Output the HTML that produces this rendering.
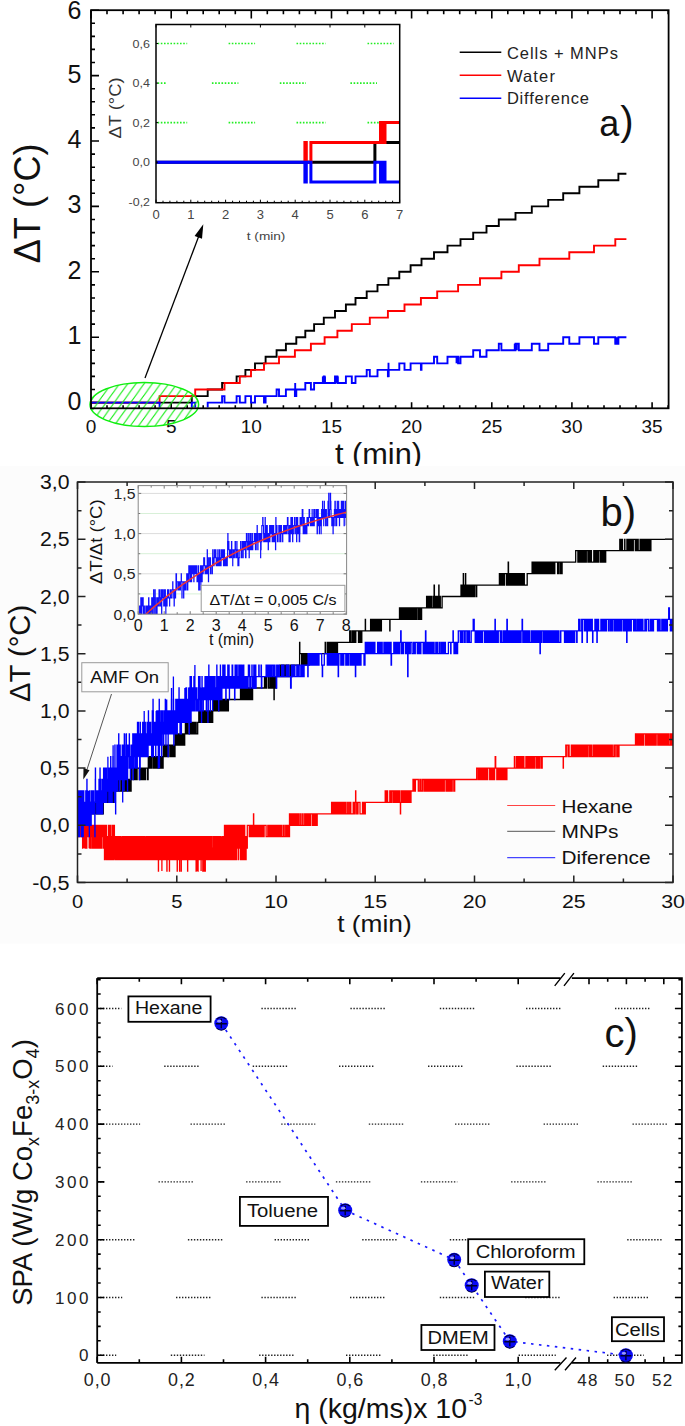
<!DOCTYPE html><html><head><meta charset="utf-8"><style>html,body{margin:0;padding:0;background:#fff;overflow:hidden;}svg{display:block;font-family:"Liberation Sans",sans-serif;}</style></head><body>
<svg width="685" height="1426" viewBox="0 0 685 1426">
<defs><pattern id="hatch" patternUnits="userSpaceOnUse" width="7.2" height="7.2"><path d="M-1.8 1.8L1.8 -1.8M0 7.2L7.2 0M5.4 9L9 5.4" stroke="#11ee11" stroke-width="1"/></pattern><clipPath id="clipA"><rect x="0" y="0" width="685" height="466"/></clipPath><clipPath id="clipAd"><rect x="91" y="10.2" width="577.6" height="397.2"/></clipPath><pattern id="hatch2" patternUnits="userSpaceOnUse" width="8.2" height="11.48"><path d="M0 11.48L8.2 0M-2 2.8L2 -2.8M6.2 14.28L10.2 8.68" stroke="#11ee11" stroke-width="1"/></pattern></defs>
<rect width="685" height="1426" fill="#fff"/>
<rect x="0" y="466" width="685" height="477.7" fill="#fcfcfc"/>
<g clip-path="url(#clipA)">
<path d="M91 408.3L91 402.3M91 10.2L91 18.4M107 408.3L107 405.3M107 10.2L107 14.2M123.1 408.3L123.1 405.3M123.1 10.2L123.1 14.2M139.1 408.3L139.1 405.3M139.1 10.2L139.1 14.2M155.1 408.3L155.1 405.3M155.1 10.2L155.1 14.2M171.2 408.3L171.2 402.3M171.2 10.2L171.2 18.4M187.2 408.3L187.2 405.3M187.2 10.2L187.2 14.2M203.2 408.3L203.2 405.3M203.2 10.2L203.2 14.2M219.2 408.3L219.2 405.3M219.2 10.2L219.2 14.2M235.3 408.3L235.3 405.3M235.3 10.2L235.3 14.2M251.3 408.3L251.3 402.3M251.3 10.2L251.3 18.4M267.3 408.3L267.3 405.3M267.3 10.2L267.3 14.2M283.4 408.3L283.4 405.3M283.4 10.2L283.4 14.2M299.4 408.3L299.4 405.3M299.4 10.2L299.4 14.2M315.4 408.3L315.4 405.3M315.4 10.2L315.4 14.2M331.5 408.3L331.5 402.3M331.5 10.2L331.5 18.4M347.5 408.3L347.5 405.3M347.5 10.2L347.5 14.2M363.5 408.3L363.5 405.3M363.5 10.2L363.5 14.2M379.5 408.3L379.5 405.3M379.5 10.2L379.5 14.2M395.6 408.3L395.6 405.3M395.6 10.2L395.6 14.2M411.6 408.3L411.6 402.3M411.6 10.2L411.6 18.4M427.6 408.3L427.6 405.3M427.6 10.2L427.6 14.2M443.7 408.3L443.7 405.3M443.7 10.2L443.7 14.2M459.7 408.3L459.7 405.3M459.7 10.2L459.7 14.2M475.7 408.3L475.7 405.3M475.7 10.2L475.7 14.2M491.8 408.3L491.8 402.3M491.8 10.2L491.8 18.4M507.8 408.3L507.8 405.3M507.8 10.2L507.8 14.2M523.8 408.3L523.8 405.3M523.8 10.2L523.8 14.2M539.8 408.3L539.8 405.3M539.8 10.2L539.8 14.2M555.9 408.3L555.9 405.3M555.9 10.2L555.9 14.2M571.9 408.3L571.9 402.3M571.9 10.2L571.9 18.4M587.9 408.3L587.9 405.3M587.9 10.2L587.9 14.2M604 408.3L604 405.3M604 10.2L604 14.2M620 408.3L620 405.3M620 10.2L620 14.2M636 408.3L636 405.3M636 10.2L636 14.2M652.1 408.3L652.1 402.3M652.1 10.2L652.1 18.4M668.1 408.3L668.1 405.3M668.1 10.2L668.1 14.2M91 402.6L99 402.6M91 389.5L95 389.5M91 376.4L95 376.4M91 363.4L95 363.4M91 350.3L95 350.3M91 337.2L99 337.2M91 324.1L95 324.1M91 311L95 311M91 298L95 298M91 284.9L95 284.9M91 271.8L99 271.8M91 258.7L95 258.7M91 245.6L95 245.6M91 232.6L95 232.6M91 219.5L95 219.5M91 206.4L99 206.4M91 193.3L95 193.3M91 180.2L95 180.2M91 167.2L95 167.2M91 154.1L95 154.1M91 141L99 141M91 127.9L95 127.9M91 114.8L95 114.8M91 101.8L95 101.8M91 88.7L95 88.7M91 75.6L99 75.6M91 62.5L95 62.5M91 49.4L95 49.4M91 36.4L95 36.4M91 23.3L95 23.3M91 10.2L99 10.2" stroke="#000" stroke-width="1.6" fill="none"/>
<text x="81.5" y="409.6" font-size="25" text-anchor="end" fill="#111" >0</text>
<text x="81.5" y="344.2" font-size="25" text-anchor="end" fill="#111" >1</text>
<text x="81.5" y="278.8" font-size="25" text-anchor="end" fill="#111" >2</text>
<text x="81.5" y="213.4" font-size="25" text-anchor="end" fill="#111" >3</text>
<text x="81.5" y="148" font-size="25" text-anchor="end" fill="#111" >4</text>
<text x="81.5" y="82.6" font-size="25" text-anchor="end" fill="#111" >5</text>
<text x="81.5" y="18.7" font-size="25" text-anchor="end" fill="#111" >6</text>
<text x="91" y="433.3" font-size="19" text-anchor="middle" fill="#111" >0</text>
<text x="171.2" y="433.3" font-size="19" text-anchor="middle" fill="#111" >5</text>
<text x="251.3" y="433.3" font-size="19" text-anchor="middle" fill="#111" >10</text>
<text x="331.5" y="433.3" font-size="19" text-anchor="middle" fill="#111" >15</text>
<text x="411.6" y="433.3" font-size="19" text-anchor="middle" fill="#111" >20</text>
<text x="491.8" y="433.3" font-size="19" text-anchor="middle" fill="#111" >25</text>
<text x="571.9" y="433.3" font-size="19" text-anchor="middle" fill="#111" >30</text>
<text x="652.1" y="433.3" font-size="19" text-anchor="middle" fill="#111" >35</text>
<text x="0" y="0" transform="translate(40,203.4) rotate(-90)" font-size="36" text-anchor="middle" fill="#111" >ΔT (°C)</text>
<text x="335" y="464.2" font-size="30" textLength="87" lengthAdjust="spacingAndGlyphs" fill="#111" >t (min)</text>
<g clip-path="url(#clipAd)">
<path d="M91 402.6H191.8V396.1H207.7V389.5H222.1V383H236.6V376.4H245.4V369.9H255V363.4H265.6V356.8H276.6V350.3H285.9V343.7H296.3V337.2H305.3V330.7H314.1V324.1H323.8V317.6H335V311H345.9V304.5H355.5V298H366.7V291.4H377.5V284.9H388.4V278.3H399.3V271.8H410.6V265.3H421.5V258.7H434V252.2H447.5V245.6H460.5V239.1H473.2V232.6H486.5V226H498.8V219.5H515.5V212.9H531.8V206.4H548.2V199.9H563.2V193.3H579.4V186.8H598.3V180.2H618.4V173.7H626.4" stroke="#000" stroke-width="1.9" fill="none"/>
<path d="M91 402.6H159.6V396.1H195.2V389.5H224.5V383H239.8V376.4H251V369.9H264V363.4H279V356.8H294.9V350.3H310.9V343.7H324.6V337.2H337.4V330.7H351.8V324.1H369.8V317.6H387.9V311H404.5V304.5H420.9V298H437.2V291.4H458.1V284.9H480V278.3H501.4V271.8H518.8V265.3H539.5V258.7H569.3V252.2H594V245.6H615.3V239.1H626.4" stroke="#f00" stroke-width="1.9" fill="none"/>
<path d="M91 402.6H159.6V409.1H191.8V402.6H195.2V409.1H207.7V402.6H222.1V396.1H224.5V402.6H236.6V396.1H239.8V402.6H245.4V396.1H251V402.6H255V396.1H264V402.6H265.6V396.1H276.6V389.5H279V396.1H285.9V389.5H294.9V396.1H296.3V389.5H305.3V383H310.9V389.5H314.1V383H323.8V376.4H324.6V383H335V376.4H337.4V383H345.9V376.4H351.8V383H355.5V376.4H366.7V369.9H369.8V376.4H377.5V369.9H387.9V376.4H388.4V369.9H399.3V363.4H404.5V369.9H410.6V363.4H420.9V369.9H421.5V363.4H434V356.8H437.2V363.4H447.5V356.8H458.1V363.4H460.5V356.8H473.2V350.3H480V356.8H486.5V350.3H498.8V343.7H501.4V350.3H515.5V343.7H518.8V350.3H531.8V343.7H539.5V350.3H548.2V343.7H563.2V337.2H569.3V343.7H579.4V337.2H594V343.7H598.3V337.2H615.3V343.7H618.4V337.2H626.4" stroke="#00f" stroke-width="1.9" fill="none"/>
<path d="M295.2 395.4V383M388.5 377.1V362.7" stroke="#00f" stroke-width="1.9" fill="none"/>
<rect x="321.9" y="376.4" width="4" height="6.5" fill="#00f"/>
<rect x="334.7" y="376.4" width="4" height="6.5" fill="#00f"/>
<rect x="455.6" y="356.8" width="4" height="6.5" fill="#00f"/>
<rect x="513.8" y="343.7" width="4" height="6.5" fill="#00f"/>
<rect x="614.8" y="337.2" width="4" height="6.5" fill="#00f"/>
</g>
<ellipse cx="144.3" cy="404.6" rx="54.3" ry="22" fill="url(#hatch2)" stroke="#11ee11" stroke-width="1.5"/>
<line x1="145" y1="378" x2="199.5" y2="234.3" stroke="#000" stroke-width="1.3" />
<path d="M203.3 224.3L202 238.8L194.6 236Z" fill="#000"/>
<rect x="91" y="10.2" width="577.6" height="398.1" stroke="#000" stroke-width="1.8" fill="none" />
<line x1="459.7" y1="52.2" x2="501.3" y2="52.2" stroke="#000" stroke-width="1.5" />
<line x1="459.7" y1="75.2" x2="501.3" y2="75.2" stroke="#f00" stroke-width="1.5" />
<line x1="459.7" y1="98.2" x2="501.3" y2="98.2" stroke="#00f" stroke-width="1.5" />
<text x="506.9" y="59.4" font-size="16.5" textLength="111" lengthAdjust="spacing" fill="#222" >Cells + MNPs</text>
<text x="506.9" y="81.6" font-size="16.5" textLength="48" lengthAdjust="spacing" fill="#222" >Water</text>
<text x="506.9" y="104.3" font-size="16.5" textLength="82" lengthAdjust="spacing" fill="#222" >Difference</text>
<text x="599.3" y="135.7" font-size="36" fill="#111" >a</text>
<text x="620.3" y="135.3" font-size="40" fill="#111" >)</text>
<rect x="156" y="24.5" width="243.7" height="178.2" stroke="#000" stroke-width="0" fill="#fff" />
<path d="M157.6 43.5H187.2M228.6 43.5H255.1M296.5 43.5H325.7M367.5 43.5H393.6M157.6 83.1H167M211.9 83.1H238.4M279.8 83.1H306M350.4 83.1H377M157.6 122.6H187.2M228.6 122.6H255.1M296.5 122.6H325.7M367.5 122.6H393.6" stroke="#22ee22" stroke-width="1.6" stroke-dasharray="1.6 1.6" fill="none"/>
<path d="M156 162.2L374.9 162.2L374.9 142.4L399.6 142.4" stroke="#000" stroke-width="3" fill="none"/>
<path d="M304.9 162.2L304.9 142.4L306.3 142.4L306.3 162.2L310.9 162.2L310.9 142.4L380.5 142.4L380.5 122.6L382.2 122.6L382.2 142.4L385 142.4L385 122.6L399.6 122.6" stroke="#f00" stroke-width="3" fill="none"/>
<path d="M156 162.2L304.9 162.2L304.9 182L306.3 182L306.3 162.2L310.9 162.2L310.9 182L374.9 182L374.9 162.2L380.5 162.2L380.5 182L382.2 182L382.2 162.2L385 162.2L385 182L399.6 182" stroke="#00f" stroke-width="3" fill="none"/>
<path d="M156 202.7L156 199.7M156 24.5L156 27.5M163 202.7L163 200.7M169.9 202.7L169.9 200.7M176.9 202.7L176.9 200.7M183.8 202.7L183.8 200.7M190.8 202.7L190.8 199.7M190.8 24.5L190.8 27.5M197.8 202.7L197.8 200.7M204.7 202.7L204.7 200.7M211.7 202.7L211.7 200.7M218.6 202.7L218.6 200.7M225.6 202.7L225.6 199.7M225.6 24.5L225.6 27.5M232.6 202.7L232.6 200.7M239.5 202.7L239.5 200.7M246.5 202.7L246.5 200.7M253.4 202.7L253.4 200.7M260.4 202.7L260.4 199.7M260.4 24.5L260.4 27.5M267.4 202.7L267.4 200.7M274.3 202.7L274.3 200.7M281.3 202.7L281.3 200.7M288.2 202.7L288.2 200.7M295.2 202.7L295.2 199.7M295.2 24.5L295.2 27.5M302.2 202.7L302.2 200.7M309.1 202.7L309.1 200.7M316.1 202.7L316.1 200.7M323 202.7L323 200.7M330 202.7L330 199.7M330 24.5L330 27.5M337 202.7L337 200.7M343.9 202.7L343.9 200.7M350.9 202.7L350.9 200.7M357.8 202.7L357.8 200.7M364.8 202.7L364.8 199.7M364.8 24.5L364.8 27.5M371.8 202.7L371.8 200.7M378.7 202.7L378.7 200.7M385.7 202.7L385.7 200.7M392.6 202.7L392.6 200.7M399.6 202.7L399.6 199.7M399.6 24.5L399.6 27.5M156 43.5L158 43.5M156 83.1L158 83.1M156 122.6L158 122.6M156 162.2L158 162.2" stroke="#000" stroke-width="1" fill="none"/>
<rect x="156" y="24.5" width="243.7" height="178.2" stroke="#000" stroke-width="1.5" fill="none" />
<text x="156" y="219" font-size="13" text-anchor="middle" fill="#444" >0</text>
<text x="190.8" y="219" font-size="13" text-anchor="middle" fill="#444" >1</text>
<text x="225.6" y="219" font-size="13" text-anchor="middle" fill="#444" >2</text>
<text x="260.4" y="219" font-size="13" text-anchor="middle" fill="#444" >3</text>
<text x="295.2" y="219" font-size="13" text-anchor="middle" fill="#444" >4</text>
<text x="330" y="219" font-size="13" text-anchor="middle" fill="#444" >5</text>
<text x="364.8" y="219" font-size="13" text-anchor="middle" fill="#444" >6</text>
<text x="399.6" y="219" font-size="13" text-anchor="middle" fill="#444" >7</text>
<text x="150" y="47.5" font-size="11.5" text-anchor="end" textLength="17.4" lengthAdjust="spacingAndGlyphs" fill="#444" >0,6</text>
<text x="150" y="87.1" font-size="11.5" text-anchor="end" textLength="17.4" lengthAdjust="spacingAndGlyphs" fill="#444" >0,4</text>
<text x="150" y="126.6" font-size="11.5" text-anchor="end" textLength="17.4" lengthAdjust="spacingAndGlyphs" fill="#444" >0,2</text>
<text x="150" y="166.2" font-size="11.5" text-anchor="end" textLength="17.4" lengthAdjust="spacingAndGlyphs" fill="#444" >0,0</text>
<text x="150" y="205.8" font-size="11.5" text-anchor="end" textLength="21.4" lengthAdjust="spacingAndGlyphs" fill="#444" >-0,2</text>
<text x="0" y="0" transform="translate(120.5,108) rotate(-90)" font-size="16.5" text-anchor="middle" textLength="61" lengthAdjust="spacingAndGlyphs" fill="#333" >ΔT (°C)</text>
<text x="246.8" y="240" font-size="11.5" textLength="38.6" lengthAdjust="spacingAndGlyphs" fill="#444" >t (min)</text>
</g>
<clipPath id="clipBd"><rect x="77.5" y="482" width="595.5" height="400.4"/></clipPath>
<g clip-path="url(#clipBd)">
<path d="M77.5 836.7H77.6V825.3H77.7V836.7H77.8V825.3H77.9V836.7H78V825.3H78.2V836.7H78.3V825.3H78.4V836.7H78.5V825.3H78.7V836.7H78.8V825.3H79.1V836.7H79.2V825.3H79.6V836.7H79.9V825.3H80.2V836.7H80.3V825.3H80.5V836.7H80.6V825.3H80.7V836.7H80.8V825.3H80.9V836.7H81V825.3H81.4V836.7H81.6V825.3H81.6V836.7H81.7V825.3H81.9V836.7H82V825.3H82V836.7H82.3V825.3H82.6V848.2H82.7V836.7H82.9V825.3H83V836.7H83.3V825.3H83.5V836.7H83.7V825.3H83.8V836.7H83.9V825.3H84V848.2H84V836.7H84.1V825.3H84.3V836.7H84.4V825.3H84.7V836.7H84.8V825.3H84.9V848.2H84.9V825.3H85.2V848.2H85.4V825.3H85.5V836.7H85.7V825.3H85.8V836.7H86.2V825.3H86.3V836.7H86.6V825.3H86.7V848.2H86.8V825.3H86.8V836.7H87V825.3H87.8V836.7H88V825.3H88.1V836.7H88.3V825.3H88.3V836.7H88.4V825.3H88.5V836.7H88.7V825.3H88.8V836.7H88.9V825.3H89.2V848.2H89.2V836.7H89.3V825.3H89.4V836.7H89.5V825.3H89.6V836.7H89.7V848.2H89.7V836.7H89.9V848.2H90.1V825.3H90.2V836.7H90.3V825.3H90.4V836.7H90.5V825.3H90.6V836.7H90.7V825.3H90.8V836.7H90.9V825.3H91V836.7H91.1V848.2H91.2V836.7H91.3V825.3H91.4V836.7H91.5V825.3H91.6V836.7H91.6V825.3H92V836.7H92.1V825.3H92.4V836.7H92.6V848.2H92.7V825.3H93V836.7H93.1V848.2H93.2V836.7H93.3V825.3H93.4V836.7H93.5V848.2H93.5V825.3H93.6V848.2H93.8V836.7H94V825.3H94.2V836.7H94.4V848.2H94.5V836.7H94.5V848.2H94.6V825.3H95V836.7H95V848.2H95.1V825.3H95.3V836.7H95.4V825.3H95.4V836.7H95.5V825.3H95.6V836.7H95.7V848.2H95.8V836.7H95.9V848.2H95.9V825.3H96.2V836.7H96.4V825.3H96.7V848.2H96.8V836.7H97V825.3H97.1V836.7H97.2V825.3H97.3V836.7H97.3V825.3H97.4V836.7H97.5V825.3H97.6V836.7H97.9V825.3H98V836.7H98.1V848.2H98.2V836.7H98.3V848.2H98.3V836.7H98.4V825.3H98.5V836.7H98.6V825.3H98.7V836.7H98.8V825.3H98.8V836.7H98.9V825.3H99V848.2H99.1V825.3H99.4V848.2H99.5V836.7H99.6V848.2H99.7V825.3H99.7V836.7H100V825.3H100.1V848.2H100.2V836.7H100.3V825.3H100.5V836.7H100.7V848.2H100.8V825.3H100.9V836.7H101V825.3H101.1V836.7H101.2V825.3H101.3V836.7H101.4V825.3H101.5V836.7H101.7V825.3H101.7V848.2H101.8V825.3H102.2V836.7H102.3V825.3H102.4V836.7H102.8V825.3H103V836.7H103.4V848.2H103.5V836.7H103.6V848.2H103.7V825.3H103.8V836.7H104V825.3H104.1V836.7H104.3V848.2H104.4V836.7H104.5V848.2H104.5V859.6H104.7V848.2H104.9V825.3H105V848.2H105.1V859.6H105.2V825.3H105.4V836.7H105.5V825.3H105.6V836.7H105.8V848.2H105.9V836.7H106V859.6H106V825.3H106.1V836.7H106.2V848.2H106.3V825.3H106.4V836.7H106.6V859.6H106.7V836.7H106.8V848.2H106.9V859.6H106.9V836.7H107V859.6H107.1V836.7H107.2V848.2H107.4V836.7H107.4V859.6H107.5V848.2H107.6V836.7H107.7V848.2H107.8V836.7H107.9V859.6H108.1V836.7H108.2V859.6H108.3V848.2H108.4V825.3H108.5V836.7H108.6V859.6H108.8V836.7H108.9V859.6H109V836.7H109.1V825.3H109.2V836.7H109.3V848.2H109.3V859.6H109.5V825.3H109.6V836.7H109.7V825.3H109.8V848.2H109.8V836.7H109.9V859.6H110V848.2H110.3V836.7H110.3V859.6H110.6V848.2H110.7V836.7H110.7V825.3H110.8V836.7H110.9V848.2H111V836.7H111.1V859.6H111.2V848.2H111.3V836.7H111.5V859.6H111.6V836.7H111.7V848.2H111.9V836.7H112V859.6H112.1V836.7H112.3V848.2H112.4V825.3H112.5V848.2H112.6V836.7H112.7V859.6H112.7V836.7H112.8V848.2H112.9V859.6H113V825.3H113.1V848.2H113.1V836.7H113.5V859.6H113.6V836.7H113.6V859.6H113.7V836.7H113.9V848.2H114.1V859.6H114.1V825.3H114.2V848.2H114.3V825.3H114.4V836.7H114.7V848.2H114.9V836.7H115V848.2H115.1V836.7H115.2V859.6H115.3V836.7H115.4V848.2H115.5V859.6H115.5V836.7H115.6V848.2H115.7V836.7H115.8V859.6H116V836.7H116V848.2H116.1V836.7H116.4V859.6H116.5V848.2H116.5V836.7H116.6V848.2H116.7V836.7H116.8V848.2H116.9V836.7H117V859.6H117V848.2H117.1V859.6H117.2V848.2H117.4V836.7H117.5V848.2H117.6V859.6H117.7V836.7H117.9V848.2H118V836.7H118.1V848.2H118.2V836.7H118.3V848.2H118.4V836.7H118.4V859.6H118.7V848.2H118.8V859.6H118.9V848.2H119V859.6H119.2V836.7H119.3V859.6H119.4V848.2H119.5V859.6H119.6V836.7H119.7V859.6H119.8V836.7H119.9V859.6H120.1V836.7H120.3V859.6H120.7V836.7H120.9V848.2H121.2V859.6H121.3V848.2H121.3V859.6H121.6V848.2H121.9V859.6H122.2V836.7H122.2V848.2H122.4V836.7H122.6V848.2H122.7V859.6H122.8V836.7H122.9V859.6H123.1V848.2H123.2V836.7H123.2V848.2H123.5V836.7H123.6V859.6H123.7V848.2H123.7V859.6H123.8V848.2H124V836.7H124.1V859.6H124.4V836.7H124.6V859.6H124.9V848.2H125V859.6H125.1V836.7H125.3V859.6H125.6V848.2H125.7V859.6H125.8V836.7H126V859.6H126V836.7H126.1V859.6H126.3V836.7H126.4V848.2H126.5V836.7H126.5V859.6H126.7V848.2H126.8V836.7H126.9V848.2H127.1V859.6H127.2V848.2H127.3V836.7H127.4V859.6H127.5V848.2H127.5V859.6H127.7V848.2H127.8V859.6H127.9V836.7H128V859.6H128V836.7H128.1V848.2H128.4V836.7H128.4V848.2H128.5V836.7H128.7V848.2H128.9V836.7H128.9V859.6H129.2V836.7H129.4V848.2H129.5V859.6H129.6V848.2H129.8V859.6H130V836.7H130.1V859.6H130.2V836.7H130.3V859.6H130.5V848.2H130.6V859.6H130.7V836.7H130.8V859.6H130.8V836.7H131.1V859.6H131.2V848.2H131.3V859.6H131.6V836.7H131.9V848.2H132V859.6H132.1V836.7H132.2V848.2H132.3V836.7H132.6V859.6H132.7V836.7H132.8V848.2H133V859.6H133.1V836.7H133.2V859.6H133.2V836.7H133.3V848.2H133.6V859.6H133.7V848.2H133.8V859.6H133.9V836.7H134V859.6H134.2V836.7H134.2V859.6H134.4V848.2H134.5V859.6H134.6V836.7H134.7V848.2H134.8V859.6H134.9V848.2H135V859.6H135.1V848.2H135.1V859.6H135.3V836.7H135.4V859.6H135.5V848.2H135.6V836.7H135.7V859.6H135.8V848.2H135.9V859.6H136.1V848.2H136.2V859.6H136.4V848.2H136.6V836.7H136.8V848.2H137V859.6H137.2V836.7H137.3V859.6H137.4V848.2H137.6V859.6H137.7V848.2H137.8V836.7H137.9V848.2H138V859.6H138.1V836.7H138.4V848.2H138.7V859.6H138.8V848.2H138.9V859.6H139V848.2H139V859.6H139.1V836.7H139.4V848.2H139.5V836.7H139.7V859.6H139.8V836.7H139.9V859.6H140V836.7H140.1V848.2H140.2V859.6H140.3V848.2H140.4V859.6H140.4V836.7H140.5V848.2H140.6V859.6H140.7V848.2H140.8V859.6H141V848.2H141.1V859.6H141.4V836.7H141.5V848.2H141.6V836.7H141.8V859.6H141.8V848.2H141.9V859.6H142.2V848.2H142.3V836.7H142.5V848.2H142.7V836.7H142.8V848.2H142.9V859.6H143V836.7H143.1V859.6H143.3V836.7H143.5V848.2H143.6V836.7H143.7V848.2H143.7V859.6H143.8V848.2H143.9V836.7H144.1V859.6H144.2V848.2H144.2V836.7H144.3V848.2H144.4V859.6H144.6V848.2H144.7V859.6H144.8V836.7H145V848.2H145.2V836.7H145.2V859.6H145.4V848.2H145.5V859.6H145.6V848.2H145.7V859.6H145.7V848.2H145.8V859.6H146V848.2H146.1V859.6H146.4V836.7H146.6V848.2H146.6V836.7H146.7V848.2H146.9V836.7H147.1V859.6H147.2V836.7H147.3V859.6H147.4V848.2H147.5V836.7H147.6V859.6H147.6V836.7H147.7V848.2H147.8V836.7H148V848.2H148.2V859.6H148.3V848.2H148.5V859.6H148.5V848.2H148.6V859.6H148.7V848.2H148.8V859.6H148.9V836.7H149V859.6H149.2V848.2H149.3V836.7H149.4V848.2H149.5V836.7H149.5V848.2H149.6V859.6H149.9V836.7H150V859.6H150V836.7H150.1V859.6H150.7V836.7H150.9V859.6H150.9V836.7H151V859.6H151.1V848.2H151.2V859.6H151.3V836.7H151.4V848.2H151.4V859.6H151.6V836.7H151.8V859.6H151.9V848.2H152V836.7H152.1V859.6H152.6V836.7H152.8V859.6H152.9V836.7H153V859.6H153.2V848.2H153.4V859.6H153.5V836.7H153.7V859.6H153.8V836.7H153.8V848.2H154V859.6H154.1V836.7H154.2V859.6H154.4V848.2H154.5V859.6H154.6V848.2H154.7V859.6H154.7V848.2H154.8V859.6H154.9V836.7H155V859.6H155.2V836.7H155.2V859.6H155.3V836.7H155.4V859.6H155.5V836.7H155.7V848.2H155.7V836.7H155.8V848.2H156V859.6H156.1V848.2H156.2V859.6H156.2V848.2H156.6V859.6H156.7V848.2H156.8V859.6H156.9V836.7H157V848.2H157.1V859.6H157.2V848.2H157.3V859.6H157.6V836.7H157.6V848.2H157.9V836.7H158V848.2H158.1V859.6H158.1V836.7H158.3V848.2H158.4V871.1H158.5V848.2H158.6V836.7H158.6V859.6H158.7V836.7H158.8V848.2H158.9V859.6H159.1V848.2H159.1V836.7H159.2V859.6H159.5V836.7H159.6V859.6H159.9V848.2H160V859.6H160.3V836.7H160.5V859.6H160.6V848.2H160.7V836.7H160.8V848.2H160.9V836.7H161V848.2H161V859.6H161.1V848.2H161.4V859.6H161.5V848.2H161.6V836.7H161.7V859.6H161.8V836.7H161.9V871.1H161.9V836.7H162V848.2H162.1V859.6H162.2V848.2H162.3V859.6H162.4V848.2H162.4V859.6H162.5V848.2H162.6V859.6H162.7V848.2H162.8V836.7H162.9V859.6H163.3V848.2H163.4V859.6H163.5V848.2H163.6V836.7H163.7V859.6H163.8V848.2H164V836.7H164.1V859.6H164.2V836.7H164.3V848.2H164.3V836.7H164.4V859.6H164.7V848.2H164.8V859.6H164.9V836.7H165.2V848.2H165.3V836.7H165.3V859.6H165.4V848.2H165.5V859.6H165.7V836.7H165.8V848.2H166V859.6H166.1V848.2H166.2V859.6H166.2V848.2H166.4V859.6H166.7V836.7H166.9V871.1H167V848.2H167.1V859.6H167.2V836.7H167.2V848.2H167.3V836.7H167.4V848.2H167.5V859.6H167.7V836.7H167.9V848.2H168.2V859.6H168.3V848.2H168.6V836.7H168.7V848.2H168.9V859.6H169V848.2H169.1V859.6H169.1V848.2H169.4V871.1H169.5V859.6H169.7V836.7H169.8V859.6H170.1V836.7H170.2V859.6H170.4V836.7H170.5V859.6H170.7V848.2H170.9V836.7H171V859.6H171.1V836.7H171.2V859.6H171.4V848.2H171.5V859.6H171.5V848.2H171.6V859.6H171.7V848.2H171.9V859.6H172V848.2H172.2V836.7H172.4V859.6H172.5V836.7H172.8V859.6H172.9V836.7H173V859.6H173.1V836.7H173.2V859.6H173.4V836.7H173.4V859.6H173.5V836.7H173.7V859.6H173.9V848.2H173.9V836.7H174V848.2H174.1V859.6H174.4V848.2H174.5V859.6H174.6V836.7H174.7V848.2H174.8V836.7H174.8V859.6H175V836.7H175.1V859.6H175.3V848.2H175.4V836.7H175.5V859.6H175.6V848.2H175.7V859.6H175.8V848.2H175.8V859.6H176V848.2H176.1V836.7H176.2V859.6H176.3V848.2H176.4V859.6H176.8V848.2H176.9V836.7H177.2V871.1H177.3V848.2H177.4V836.7H177.5V859.6H177.6V848.2H177.7V859.6H177.8V836.7H177.9V859.6H178V848.2H178.1V859.6H178.2V836.7H178.4V848.2H178.6V836.7H178.7V859.6H178.7V848.2H179V859.6H179.1V836.7H179.1V848.2H179.2V836.7H179.3V848.2H179.5V859.6H179.6V871.1H179.7V859.6H180V836.7H180.1V848.2H180.1V836.7H180.2V859.6H180.5V848.2H180.6V836.7H180.8V848.2H180.9V836.7H181V859.6H181.1V836.7H181.1V848.2H181.2V871.1H181.3V848.2H181.4V859.6H181.5V836.7H181.5V848.2H181.6V859.6H181.9V836.7H182V859.6H182.5V848.2H182.5V836.7H182.7V848.2H182.9V859.6H183V848.2H183.1V859.6H183.2V836.7H183.3V848.2H183.4V836.7H183.4V848.2H183.5V836.7H183.6V848.2H183.8V836.7H183.9V848.2H184.1V859.6H184.3V848.2H184.4V859.6H184.4V836.7H184.6V859.6H184.8V836.7H184.9V848.2H184.9V859.6H185V836.7H185.2V848.2H185.4V836.7H185.4V848.2H185.5V836.7H185.6V848.2H185.7V859.6H185.8V848.2H186V859.6H186.3V848.2H186.5V836.7H186.6V859.6H186.7V836.7H186.8V859.6H186.9V836.7H187V859.6H187.1V848.2H187.2V859.6H187.3V848.2H187.3V836.7H187.4V848.2H187.5V859.6H187.6V871.1H187.7V836.7H187.8V848.2H188.1V859.6H188.2V836.7H188.3V848.2H188.4V859.6H188.5V848.2H188.6V836.7H188.7V848.2H188.8V859.6H189V848.2H189.1V836.7H189.2V848.2H189.2V859.6H189.4V848.2H189.5V859.6H189.7V836.7H189.9V848.2H190.1V836.7H190.2V859.6H190.3V848.2H190.5V836.7H190.6V859.6H190.8V836.7H190.9V859.6H191V848.2H191.1V836.7H191.1V859.6H191.2V836.7H191.3V859.6H191.4V836.7H191.5V859.6H191.6V848.2H191.6V836.7H191.7V859.6H191.8V836.7H191.9V859.6H192V836.7H192.3V859.6H192.5V848.2H192.5V859.6H192.6V836.7H192.7V848.2H193.1V859.6H193.3V848.2H193.5V836.7H193.8V859.6H193.9V836.7H194V859.6H194.2V848.2H194.3V836.7H194.4V859.6H194.4V836.7H194.6V859.6H194.7V836.7H194.8V859.6H194.9V848.2H195V859.6H195.1V836.7H195.2V859.6H195.3V848.2H195.4V836.7H195.4V859.6H195.6V848.2H195.7V859.6H195.8V848.2H195.9V859.6H196.1V871.1H196.2V836.7H196.3V859.6H196.4V848.2H196.4V836.7H196.5V848.2H196.6V859.6H196.7V836.7H196.8V871.1H196.8V836.7H196.9V848.2H197V859.6H197.2V848.2H197.3V836.7H197.4V859.6H197.8V848.2H197.8V859.6H197.9V848.2H198V871.1H198.1V859.6H198.2V848.2H198.3V836.7H198.3V859.6H198.4V836.7H198.6V859.6H198.9V848.2H199.1V836.7H199.2V859.6H199.3V848.2H199.4V859.6H199.7V848.2H199.7V859.6H199.8V848.2H200.1V859.6H200.2V836.7H200.3V859.6H200.4V836.7H200.7V859.6H200.7V848.2H200.8V859.6H201.1V871.1H201.1V836.7H201.2V859.6H201.5V848.2H201.6V859.6H201.8V848.2H201.9V859.6H202V836.7H202.1V859.6H202.1V836.7H202.3V848.2H202.6V836.7H202.6V859.6H202.8V871.1H202.9V859.6H203V836.7H203.1V859.6H203.2V848.2H203.3V836.7H203.5V848.2H203.5V859.6H203.6V836.7H203.8V871.1H203.9V848.2H204V836.7H204V848.2H204.2V836.7H204.3V848.2H204.5V859.6H204.6V836.7H204.7V859.6H204.8V848.2H204.9V836.7H205V848.2H205V836.7H205.1V859.6H205.2V871.1H205.3V836.7H205.4V848.2H205.4V836.7H205.5V859.6H205.6V836.7H205.7V859.6H205.9V848.2H206V836.7H206.1V859.6H206.2V848.2H206.4V859.6H206.4V836.7H206.6V848.2H206.7V836.7H206.8V859.6H206.9V848.2H207V859.6H207.2V848.2H207.3V859.6H207.6V836.7H207.7V848.2H207.9V859.6H208V848.2H208.1V859.6H208.2V848.2H208.3V836.7H208.4V859.6H208.7V836.7H208.8V848.2H208.8V836.7H209.3V859.6H209.4V836.7H209.5V859.6H209.8V836.7H209.8V859.6H210.2V848.2H210.2V859.6H210.3V848.2H210.4V836.7H210.5V848.2H210.6V836.7H210.7V859.6H210.8V848.2H210.9V859.6H211.1V836.7H211.2V848.2H211.2V859.6H211.3V836.7H211.5V859.6H211.6V848.2H211.7V859.6H211.7V848.2H211.8V859.6H212.2V848.2H212.4V859.6H212.6V848.2H212.8V859.6H212.9V836.7H213.1V859.6H213.1V836.7H213.2V859.6H213.4V848.2H213.5V859.6H213.6V836.7H213.6V848.2H213.7V859.6H213.8V836.7H213.9V848.2H214.1V859.6H214.2V836.7H214.4V848.2H214.5V836.7H214.6V848.2H214.7V859.6H214.8V836.7H214.9V859.6H215.1V848.2H215.2V859.6H215.4V848.2H215.5V859.6H215.6V848.2H215.7V836.7H215.9V859.6H216V848.2H216.3V836.7H216.4V859.6H216.5V836.7H216.6V848.2H216.8V859.6H216.9V848.2H217.2V859.6H217.3V836.7H217.4V848.2H217.4V859.6H217.5V848.2H217.7V859.6H217.8V848.2H217.9V859.6H217.9V848.2H218.4V859.6H218.5V848.2H218.7V836.7H218.8V859.6H218.9V848.2H219V859.6H219.2V848.2H219.3V859.6H219.3V848.2H219.4V836.7H219.5V859.6H219.6V848.2H219.7V836.7H219.8V859.6H219.9V836.7H220V859.6H220.2V848.2H220.3V859.6H220.4V836.7H220.6V848.2H220.7V836.7H220.8V859.6H220.9V848.2H221.1V859.6H221.3V848.2H221.4V859.6H221.5V848.2H221.6V859.6H221.7V836.7H221.7V859.6H221.8V848.2H221.9V859.6H222V848.2H222.1V859.6H222.2V848.2H222.2V859.6H222.3V836.7H222.5V859.6H222.6V836.7H222.7V859.6H223V836.7H223.1V859.6H223.3V836.7H223.4V848.2H223.5V836.7H223.6V859.6H223.6V836.7H223.7V859.6H223.9V836.7H224V848.2H224.1V859.6H224.1V848.2H224.2V836.7H224.3V859.6H224.4V836.7H224.5V825.3H224.6V836.7H224.7V848.2H224.8V836.7H224.9V848.2H225.1V836.7H225.2V859.6H225.4V836.7H225.5V848.2H225.7V825.3H225.8V848.2H225.9V825.3H226V848.2H226V836.7H226.1V859.6H226.2V848.2H226.3V859.6H226.4V848.2H226.5V836.7H226.5V848.2H226.6V825.3H226.7V836.7H226.9V848.2H227V825.3H227.1V859.6H227.2V836.7H227.3V825.3H227.5V848.2H227.5V859.6H227.6V836.7H227.7V848.2H227.8V859.6H227.9V825.3H227.9V848.2H228V859.6H228.1V848.2H228.2V836.7H228.4V848.2H228.5V836.7H228.6V859.6H228.7V848.2H228.8V825.3H228.9V848.2H229.1V836.7H229.2V859.6H229.3V836.7H229.4V825.3H229.6V836.7H229.7V848.2H229.8V859.6H229.9V825.3H230V836.7H230.2V859.6H230.3V848.2H230.3V825.3H230.4V848.2H230.5V836.7H230.6V825.3H230.7V859.6H230.8V836.7H230.8V825.3H230.9V848.2H231V836.7H231.2V848.2H231.3V859.6H231.6V836.7H231.7V848.2H231.8V825.3H231.8V836.7H232V848.2H232.1V825.3H232.2V859.6H232.3V825.3H232.4V848.2H232.5V825.3H232.6V859.6H232.7V836.7H232.7V848.2H232.8V825.3H232.9V848.2H233V859.6H233.1V836.7H233.2V848.2H233.2V859.6H233.3V825.3H233.4V859.6H233.5V848.2H233.6V825.3H233.7V859.6H233.7V836.7H233.8V859.6H233.9V836.7H234.2V848.2H234.3V859.6H234.4V836.7H234.6V848.2H234.7V825.3H234.8V836.7H234.9V825.3H235V848.2H235.2V825.3H235.3V836.7H235.4V825.3H235.5V859.6H235.6V848.2H235.7V859.6H235.8V825.3H235.9V848.2H236V836.7H236.1V825.3H236.1V848.2H236.2V859.6H236.3V825.3H236.4V859.6H236.5V825.3H236.6V836.7H236.8V848.2H236.9V836.7H237V825.3H237.1V848.2H237.2V836.7H237.4V848.2H237.5V836.7H237.5V825.3H237.7V836.7H237.9V848.2H238V836.7H238V825.3H238.1V836.7H238.2V848.2H238.3V859.6H238.4V836.7H238.5V859.6H238.5V825.3H238.6V836.7H238.7V848.2H238.9V836.7H238.9V825.3H239V836.7H239.1V825.3H239.2V836.7H239.6V848.2H239.7V825.3H239.8V836.7H239.9V848.2H240.1V825.3H240.4V836.7H240.4V859.6H240.5V825.3H240.6V836.7H240.7V848.2H240.8V836.7H241.1V848.2H241.3V859.6H241.3V848.2H241.4V859.6H241.5V825.3H241.6V848.2H241.7V859.6H241.8V836.7H241.8V825.3H241.9V836.7H242V825.3H242.2V859.6H242.3V825.3H242.4V836.7H242.5V848.2H242.6V836.7H242.8V848.2H242.8V825.3H243V836.7H243.1V859.6H243.2V825.3H243.2V859.6H243.3V848.2H243.5V825.3H243.6V836.7H243.8V825.3H243.9V848.2H244V836.7H244.2V859.6H244.3V836.7H244.4V848.2H244.5V836.7H244.6V825.3H244.7V848.2H244.8V836.7H244.9V859.6H245V836.7H245.1V848.2H245.4V836.7H245.5V848.2H245.6V836.7H245.6V848.2H245.7V836.7H245.9V859.6H246.1V848.2H246.1V836.7H246.7V848.2H247.3V825.3H249.3V836.7H249.8V825.3H250V836.7H250.9V825.3H251.5V836.7H252V825.3H252.2V836.7H252.6V825.3H253.1V836.7H253.5V813.9H253.7V836.7H254.8V825.3H255.7V836.7H255.9V825.3H256.8V836.7H257V825.3H257.5V836.7H257.7V825.3H258.4V836.7H259V825.3H259.7V836.7H259.9V825.3H260.6V836.7H261.4V825.3H261.7V836.7H261.9V825.3H263.2V836.7H264.1V825.3H266.1V836.7H267.8V825.3H268.1V836.7H268.5V825.3H268.9V836.7H269.6V825.3H269.8V836.7H270.3V825.3H270.7V836.7H271.1V825.3H271.4V836.7H272.5V825.3H272.7V836.7H272.9V825.3H274.2V836.7H274.5V825.3H274.7V836.7H275.3V825.3H275.6V836.7H276V825.3H276.9V836.7H277.3V825.3H278.2V836.7H278.4V825.3H278.6V836.7H278.9V825.3H279.7V836.7H280.2V825.3H280.6V836.7H281.3V825.3H281.5V836.7H283.1V825.3H283.5V836.7H283.7V825.3H284.2V836.7H285.7V825.3H285.9V836.7H286.4V825.3H286.8V836.7H287.7V825.3H288.6V836.7H289.5V813.9H290.1V825.3H291.2V813.9H291.4V825.3H291.7V813.9H292.8V825.3H293V813.9H293.4V825.3H293.6V813.9H294.1V825.3H294.5V813.9H294.7V825.3H295V813.9H295.4V825.3H295.9V813.9H296.3V825.3H296.7V813.9H297.4V825.3H297.6V813.9H298.3V825.3H298.5V813.9H299.2V825.3H300.7V813.9H301.1V825.3H302.7V813.9H303.1V825.3H304.7V813.9H304.9V825.3H305.1V813.9H306V825.3H306.4V813.9H306.7V825.3H306.9V813.9H307.1V825.3H307.3V813.9H307.8V825.3H308.4V813.9H308.6V825.3H308.9V813.9H309.1V825.3H309.3V813.9H309.5V825.3H310.4V813.9H312.2V825.3H312.8V813.9H313.3V825.3H314.4V813.9H315.5V825.3H315.7V813.9H316.6V825.3H316.8V813.9H317V825.3H317.2V813.9H331.6V802.4H332.2V813.9H332.5V802.4H332.9V813.9H333.8V802.4H334V813.9H335.1V802.4H335.3V813.9H335.6V802.4H336.7V813.9H337.3V802.4H337.8V813.9H338V802.4H338.4V813.9H339.3V802.4H340V813.9H340.6V802.4H341.1V813.9H341.7V802.4H342.8V813.9H343V802.4H343.9V813.9H344.4V802.4H344.8V813.9H345.7V802.4H346.1V813.9H347.7V802.4H347.9V813.9H348.1V802.4H348.3V813.9H349.7V802.4H350.1V813.9H350.3V802.4H350.8V813.9H353.2V802.4H353.6V813.9H354.1V802.4H355V813.9H355.2V802.4H355.6V791H355.8V802.4H356.7V813.9H358V802.4H360V813.9H362.5V802.4H363.3V813.9H363.6V802.4H363.8V813.9H364.2V802.4H364.7V813.9H364.9V802.4H365.1V813.9H365.3V802.4H385.2V791H385.6V802.4H386.3V791H386.9V802.4H387.2V791H387.6V802.4H389.8V791H390.2V802.4H390.7V791H391.4V802.4H391.8V791H393.3V802.4H393.6V791H393.8V802.4H394.7V791H395.3V802.4H395.5V791H396V802.4H396.6V791H396.9V802.4H398V791H398.6V802.4H398.8V791H399.1V802.4H399.3V791H399.7V802.4H400.4V813.9H400.6V802.4H401.3V791H401.5V802.4H402.2V791H403.5V802.4H403.9V791H404.6V802.4H404.8V791H405.2V802.4H405.7V791H406.3V802.4H406.6V791H406.8V802.4H407.2V791H407.7V802.4H408.1V791H408.3V802.4H408.8V791H409V802.4H409.2V791H409.7V802.4H409.9V791H410.5V802.4H411V791H413V779.5H413.4V791H413.6V779.5H414.7V791H415.4V779.5H418.3V791H419.8V779.5H420.5V791H422V779.5H422.2V791H422.7V779.5H424.2V791H424.4V779.5H424.9V791H425.3V779.5H426V791H426.2V779.5H426.4V791H427.1V779.5H427.3V791H427.7V779.5H428.6V791H428.8V779.5H429.3V791H429.9V779.5H430.8V791H431.9V779.5H432.2V791H432.4V779.5H433.7V791H433.9V779.5H434.8V791H435V779.5H436.1V791H436.3V779.5H436.6V791H437V779.5H437.2V791H437.4V779.5H437.7V791H437.9V779.5H438.1V791H438.5V779.5H439.2V791H439.4V779.5H439.7V791H440.1V779.5H440.5V791H441V779.5H441.2V791H441.4V779.5H441.9V791H442.3V779.5H442.5V791H443.4V779.5H444.1V791H444.3V779.5H446V791H446.3V779.5H447.6V791H448V779.5H448.3V791H448.5V779.5H448.9V791H449.8V779.5H450V791H450.5V779.5H450.7V791H450.9V779.5H451.1V791H452.2V779.5H453.8V791H454.7V779.5H476.7V768.1H476.9V779.5H477.1V768.1H478.5V779.5H478.9V768.1H479.1V779.5H480V768.1H480.2V779.5H481.1V768.1H481.6V779.5H482.7V768.1H482.9V779.5H483.1V768.1H483.5V779.5H484.2V768.1H484.4V779.5H484.9V768.1H485.3V779.5H485.5V768.1H486V779.5H486.4V768.1H486.6V779.5H486.9V768.1H487.1V779.5H487.3V768.1H487.5V779.5H487.7V768.1H489.7V779.5H490.2V768.1H490.4V779.5H490.8V768.1H491.3V779.5H491.9V768.1H492.1V779.5H492.4V768.1H493.7V779.5H494.6V768.1H495.2V756.7H495.7V768.1H496.8V779.5H497V768.1H497.2V779.5H497.4V768.1H497.9V779.5H498.3V768.1H498.5V779.5H499V768.1H500.3V779.5H500.5V768.1H501V779.5H501.4V768.1H501.8V779.5H502.1V768.1H502.3V779.5H502.5V768.1H503V779.5H504.3V768.1H504.7V779.5H504.9V768.1H505.4V779.5H505.6V768.1H506.7V779.5H506.9V768.1H514.4V756.7H514.9V768.1H516.6V756.7H516.8V768.1H517.1V756.7H517.7V768.1H518.4V756.7H518.6V768.1H518.8V756.7H519.1V768.1H519.3V756.7H519.9V768.1H520.2V756.7H520.4V768.1H521.3V756.7H521.5V768.1H522.4V756.7H522.8V768.1H523.2V756.7H523.5V768.1H523.7V756.7H523.9V768.1H525.9V756.7H527.2V768.1H527.4V756.7H528.5V768.1H529V756.7H529.2V768.1H529.6V756.7H530.7V768.1H531.6V756.7H532.5V768.1H533.2V756.7H534.3V768.1H534.9V756.7H536.5V768.1H536.7V756.7H536.9V768.1H537.1V756.7H537.6V768.1H538.5V756.7H538.7V768.1H538.9V756.7H539.1V768.1H540V756.7H541.5V768.1H542.2V756.7H563.2V768.1H563.4V756.7H565.8V745.2H566V756.7H566.3V745.2H568V756.7H568.5V745.2H568.7V756.7H568.9V745.2H569.1V756.7H571.3V745.2H571.8V756.7H572.2V745.2H572.9V756.7H573.1V745.2H573.5V756.7H574V745.2H574.6V756.7H575.1V745.2H576.4V756.7H576.6V745.2H576.8V756.7H577.3V745.2H577.7V756.7H577.9V745.2H578.4V756.7H578.8V745.2H579V756.7H579.5V745.2H580.1V756.7H580.4V745.2H580.6V756.7H580.8V745.2H581V756.7H581.2V745.2H581.5V756.7H582.6V745.2H582.8V756.7H584.1V745.2H584.3V756.7H585V745.2H585.4V756.7H585.9V745.2H586.1V756.7H586.5V745.2H587V756.7H587.2V745.2H587.4V756.7H588.1V745.2H589.6V756.7H589.9V745.2H591.2V756.7H591.4V745.2H591.8V756.7H593.4V745.2H593.8V756.7H594V745.2H594.3V756.7H595.4V745.2H595.8V756.7H596V745.2H596.9V756.7H597.3V745.2H597.6V756.7H598.7V745.2H599.6V756.7H599.8V745.2H600.2V756.7H600.4V745.2H600.7V756.7H600.9V745.2H601.5V756.7H601.8V745.2H602V756.7H603.1V745.2H603.5V756.7H604.4V745.2H605.1V756.7H605.7V745.2H606V756.7H606.4V745.2H606.8V756.7H607.1V745.2H607.7V756.7H607.9V745.2H608.2V756.7H609.3V745.2H609.7V756.7H610.1V745.2H610.8V756.7H611.7V745.2H612.3V756.7H613.9V745.2H614.3V756.7H614.8V745.2H615V756.7H615.2V745.2H616.8V756.7H617.2V745.2H617.6V756.7H617.9V745.2H618.1V756.7H618.3V745.2H618.5V756.7H619V745.2H635.5V733.8H635.7V745.2H635.9V733.8H636.6V745.2H636.8V733.8H637.3V745.2H637.7V733.8H639V745.2H639.7V733.8H640.1V745.2H640.4V733.8H640.8V745.2H641.2V733.8H642.1V745.2H642.8V733.8H643V745.2H643.4V733.8H645.2V745.2H645.4V733.8H645.7V745.2H645.9V733.8H646.3V745.2H646.5V733.8H646.8V745.2H647.9V733.8H648.1V745.2H648.3V733.8H648.7V745.2H649.2V733.8H649.8V745.2H650.7V733.8H651.8V745.2H652.3V733.8H652.5V745.2H652.7V733.8H653.8V745.2H654V733.8H654.3V745.2H654.7V733.8H654.9V745.2H656.2V733.8H657.8V745.2H658V733.8H658.7V745.2H658.9V733.8H659.8V745.2H660.9V733.8H661.1V745.2H661.3V733.8H661.5V745.2H661.8V733.8H662.2V745.2H662.4V733.8H663.1V745.2H664V733.8H664.2V745.2H664.4V733.8H664.6V745.2H664.8V733.8H665.1V745.2H665.9V733.8H666.6V745.2H666.8V733.8H667V745.2H667.7V733.8H668.4V745.2H669.9V733.8H670.8V745.2H671V733.8H671.2V745.2H672.1V733.8H672.6V745.2H672.8V733.8H673" stroke="#f00" stroke-width="1.3" fill="none"/>
<path d="M77.5 813.9H77.7V825.3H78.4V813.9H78.8V825.3H79.5V813.9H79.7V825.3H80.6V813.9H80.8V825.3H81.2V813.9H82.4V825.3H82.6V813.9H83.2V825.3H84.8V813.9H87V825.3H87.2V813.9H87.6V802.4H88.1V813.9H88.5V802.4H89.2V813.9H90.1V802.4H90.7V813.9H91.6V802.4H92.1V813.9H92.3V802.4H93.2V813.9H93.8V802.4H94.3V813.9H94.5V802.4H95.6V813.9H95.8V802.4H96V813.9H96.2V802.4H97.1V813.9H97.3V802.4H98.5V813.9H98.9V802.4H99.3V813.9H99.6V802.4H99.8V813.9H100.2V802.4H100.7V813.9H101.5V802.4H101.8V813.9H102.6V802.4H102.9V813.9H103.3V802.4H103.5V791H104.2V802.4H105.1V791H105.3V802.4H105.5V791H106V802.4H106.2V791H106.8V802.4H107.5V791H108.4V802.4H109.7V791H109.9V802.4H110.6V791H111V802.4H111.2V791H111.9V802.4H112.1V791H112.6V802.4H112.8V791H113.2V802.4H113.7V791H113.9V802.4H114.1V791H114.6V802.4H114.8V791H115V802.4H115.4V791H115.7V779.5H116.1V791H116.3V779.5H116.5V791H117.2V779.5H117.9V791H118.1V779.5H118.3V791H119V779.5H120.1V791H121.6V779.5H122.1V791H122.9V779.5H123.6V791H124V779.5H124.9V791H126.2V779.5H126.5V791H127.1V779.5H127.3V791H127.6V779.5H127.8V791H128V779.5H128.4V791H129.1V779.5H129.8V791H130.2V779.5H130.4V791H131.1V779.5H131.3V768.1H132.9V779.5H133.7V768.1H134.4V779.5H135.1V768.1H135.5V779.5H136.4V768.1H136.8V779.5H137.1V768.1H139.3V779.5H139.5V768.1H140.4V779.5H140.6V768.1H141V779.5H141.9V768.1H142.1V779.5H142.8V768.1H143V779.5H143.4V768.1H143.7V779.5H144.3V768.1H145V779.5H145.4V768.1H147.4V779.5H148.1V768.1H148.3V756.7H148.5V768.1H148.7V756.7H149V768.1H149.2V756.7H149.6V768.1H150.1V756.7H150.5V768.1H150.9V756.7H151.2V768.1H151.4V756.7H152.9V768.1H153.2V756.7H154V768.1H154.3V756.7H155.4V768.1H155.6V756.7H155.8V768.1H156.5V756.7H157.1V768.1H157.3V756.7H157.6V768.1H157.8V756.7H158V768.1H158.4V756.7H159.3V768.1H159.8V756.7H161.1V768.1H161.3V756.7H161.5V768.1H162.2V756.7H162.6V768.1H163.1V756.7H163.3V745.2H163.7V756.7H164.4V745.2H165.7V756.7H165.9V745.2H166.6V756.7H167.5V745.2H167.9V756.7H168.1V745.2H168.4V756.7H168.6V745.2H170.1V756.7H170.4V745.2H170.8V756.7H171V745.2H171.5V756.7H171.9V745.2H172.3V756.7H172.6V745.2H172.8V756.7H173.4V745.2H173.7V756.7H173.9V745.2H174.8V756.7H175V733.8H175.4V745.2H175.6V733.8H176.5V745.2H176.8V733.8H177.9V745.2H178.1V733.8H178.7V745.2H179V733.8H179.2V745.2H179.4V733.8H179.6V745.2H180.1V733.8H180.5V745.2H180.7V733.8H181.4V745.2H181.6V733.8H181.8V745.2H182.9V733.8H184V745.2H184.7V733.8H185.4V722.3H185.6V733.8H186.7V722.3H187.8V733.8H189.3V722.3H189.8V733.8H190V722.3H190.2V733.8H190.4V722.3H191.3V733.8H191.7V722.3H192.2V733.8H192.4V722.3H193.1V733.8H193.3V722.3H193.5V733.8H194.2V722.3H194.4V733.8H195.7V722.3H196.2V733.8H197.7V722.3H198.8V710.9H199.2V722.3H199.5V710.9H199.9V722.3H200.1V710.9H200.3V722.3H201V710.9H201.2V722.3H201.7V710.9H202.1V722.3H202.3V710.9H202.6V722.3H203.2V710.9H203.7V722.3H203.9V710.9H204.8V722.3H205.2V710.9H206.1V722.3H207V710.9H207.2V722.3H207.6V710.9H208.1V722.3H208.3V710.9H209V722.3H209.4V710.9H209.6V722.3H209.8V710.9H210.7V722.3H210.9V710.9H211.2V722.3H211.8V710.9H212V722.3H212.3V710.9H212.5V722.3H212.7V710.9H212.9V699.5H213.1V710.9H213.4V699.5H213.6V710.9H214.2V699.5H214.9V710.9H215.3V699.5H216V710.9H216.5V699.5H217.1V710.9H218V699.5H218.2V710.9H218.9V699.5H219.1V710.9H219.3V699.5H220.2V710.9H220.4V699.5H220.9V710.9H221.3V699.5H222V710.9H222.4V699.5H222.8V710.9H223.3V699.5H224.2V710.9H224.6V699.5H224.8V710.9H225.5V699.5H226.2V710.9H226.6V699.5H226.8V710.9H227.5V699.5H228.1V710.9H228.4V699.5H240.5V688H240.9V699.5H241.2V688H241.4V699.5H242V688H242.7V699.5H242.9V688H243.8V699.5H244.2V688H244.5V699.5H244.7V688H245.3V699.5H245.6V688H246.2V699.5H246.7V688H246.9V699.5H247.3V688H248.4V699.5H248.7V688H248.9V699.5H249.5V688H249.8V699.5H250V688H250.9V699.5H252V688H252.2V699.5H252.6V688H264.5V676.6H265.2V688H265.4V676.6H265.9V688H266.3V676.6H266.5V688H266.7V676.6H268.5V688H268.7V676.6H268.9V688H270.3V676.6H270.5V688H270.9V676.6H271.6V688H272.5V676.6H273.6V688H274V699.5H274.2V688H274.7V676.6H275.6V688H276.2V676.6H280.2V665.1H281.3V676.6H281.7V665.1H282V676.6H282.8V665.1H283.1V676.6H283.3V665.1H283.9V676.6H284.4V665.1H284.6V676.6H285.5V665.1H285.7V676.6H286.4V665.1H286.6V676.6H286.8V665.1H287V676.6H288.4V665.1H288.6V676.6H288.8V665.1H289V676.6H290.6V665.1H291.2V676.6H291.4V665.1H291.9V676.6H292.1V665.1H299.6V642.3H299.8V653.7H301.6V665.1H301.8V653.7H302V665.1H302.2V653.7H302.9V665.1H304.2V653.7H304.5V665.1H304.9V653.7H305.1V665.1H306.2V653.7H306.9V665.1H307.3V653.7H307.5V665.1H308.2V653.7H308.9V665.1H309.1V653.7H325.2V642.3H325.4V653.7H327.2V642.3H327.4V653.7H327.8V642.3H328.1V653.7H328.3V642.3H329.2V653.7H329.8V642.3H330V653.7H330.3V642.3H330.5V653.7H330.9V642.3H331.4V653.7H331.6V642.3H331.8V653.7H332V642.3H332.9V653.7H333.1V642.3H333.6V653.7H334V642.3H334.2V653.7H334.7V642.3H334.9V653.7H335.3V642.3H335.8V653.7H336.4V642.3H337.3V653.7H337.5V642.3H349.7V630.8H351V642.3H352.5V630.8H353V642.3H353.6V630.8H353.9V642.3H354.5V630.8H354.7V642.3H355.2V630.8H355.6V642.3H355.8V630.8H358.5V642.3H359.6V630.8H360.3V642.3H360.7V630.8H360.9V642.3H361.1V630.8H361.6V642.3H361.8V630.8H365.3V619.4H365.5V630.8H370.6V619.4H370.8V630.8H371.3V619.4H371.9V630.8H372.8V619.4H373.9V630.8H374.4V619.4H375.5V630.8H375.7V619.4H375.9V630.8H376.1V619.4H376.4V630.8H376.6V619.4H376.8V630.8H377.2V619.4H377.7V630.8H377.9V619.4H378.8V630.8H379V619.4H379.7V630.8H379.9V619.4H380.3V630.8H380.5V619.4H381.2V630.8H381.4V619.4H389.8V630.8H390V619.4H399.5V607.9H400V619.4H401.1V607.9H402.2V619.4H402.4V607.9H402.8V619.4H403.7V607.9H404.4V619.4H404.6V607.9H404.8V619.4H405V607.9H405.9V619.4H406.6V607.9H407.7V619.4H407.9V607.9H408.3V619.4H408.8V607.9H409V619.4H409.2V607.9H409.4V619.4H410.1V607.9H410.3V619.4H411V607.9H411.2V619.4H411.6V607.9H412.3V619.4H412.7V607.9H413V619.4H413.4V607.9H414.1V619.4H414.3V607.9H414.5V619.4H415V607.9H415.4V619.4H415.6V607.9H415.8V619.4H416.5V607.9H418V619.4H418.3V607.9H418.5V619.4H418.7V607.9H418.9V619.4H420.2V607.9H420.9V619.4H421.1V607.9H421.3V619.4H421.6V607.9H426.6V596.5H426.9V607.9H428V596.5H428.6V607.9H429.3V596.5H429.5V607.9H430.4V596.5H430.6V607.9H430.8V596.5H431.1V607.9H431.5V596.5H431.9V607.9H433.5V596.5H433.7V607.9H434.1V585.1H434.4V596.5H435V607.9H435.7V596.5H436.1V607.9H436.6V596.5H436.8V607.9H437V596.5H437.2V607.9H438.1V596.5H438.3V607.9H438.5V596.5H438.8V585.1H439V596.5H439.7V607.9H440.1V596.5H440.3V607.9H442.1V596.5H461V585.1H461.3V596.5H461.5V585.1H461.7V596.5H461.9V585.1H462.6V596.5H462.8V585.1H463.3V573.6H463.5V585.1H463.7V596.5H464.6V585.1H464.8V596.5H465V585.1H465.5V573.6H465.7V585.1H466.3V596.5H467V585.1H467.9V596.5H468.1V585.1H468.5V596.5H469V585.1H470.1V596.5H470.3V585.1H470.5V596.5H471.2V585.1H471.4V596.5H471.6V585.1H472.1V596.5H472.5V585.1H472.7V596.5H473V585.1H473.2V596.5H473.4V585.1H473.8V596.5H474.1V585.1H474.7V596.5H474.9V585.1H476.5V596.5H476.7V585.1H499.4V573.6H499.6V585.1H500.3V573.6H500.7V585.1H501.2V573.6H501.4V585.1H501.8V573.6H502.1V585.1H502.3V573.6H502.5V585.1H503V573.6H504.1V585.1H504.5V573.6H506.5V585.1H507.1V573.6H507.4V585.1H508V573.6H508.2V562.2H508.5V573.6H508.9V585.1H509.1V573.6H510V585.1H510.2V573.6H510.5V585.1H510.9V573.6H511.3V585.1H512V573.6H512.4V585.1H513.3V573.6H514.2V585.1H515.3V573.6H515.5V585.1H516.2V573.6H516.4V585.1H516.8V573.6H517.1V585.1H517.3V573.6H517.9V585.1H518.6V573.6H518.8V585.1H519.1V573.6H519.3V585.1H519.5V573.6H520.4V585.1H520.8V573.6H521.9V585.1H522.4V573.6H522.6V585.1H522.8V573.6H523.2V585.1H524.1V573.6H524.3V585.1H527.2V573.6H532.1V562.2H532.3V573.6H532.7V562.2H533.8V573.6H534.7V562.2H534.9V573.6H535.8V562.2H536V573.6H536.3V562.2H536.5V573.6H537.1V562.2H538V573.6H538.5V562.2H539.8V573.6H540V562.2H540.2V573.6H541.3V562.2H541.5V573.6H541.8V562.2H542.9V573.6H543.1V562.2H543.5V573.6H544V562.2H544.6V573.6H544.9V562.2H546.2V573.6H546.4V562.2H546.8V573.6H547.1V562.2H547.5V573.6H547.7V562.2H547.9V573.6H548.2V562.2H549V573.6H549.7V562.2H550.8V573.6H551V562.2H551.5V573.6H551.7V562.2H551.9V573.6H552.4V562.2H552.8V573.6H553.9V562.2H554.3V573.6H554.8V562.2H557.6V573.6H558.8V562.2H560.3V573.6H560.7V562.2H561.6V573.6H562.1V562.2H575.7V550.7H577.9V562.2H578.8V550.7H579V562.2H579.9V550.7H580.4V562.2H581.7V550.7H582.1V562.2H582.6V550.7H583.5V562.2H584.6V550.7H585.2V562.2H585.4V550.7H585.9V562.2H586.3V550.7H587.9V562.2H588.1V550.7H589.4V562.2H589.6V550.7H590.7V562.2H591.2V550.7H591.4V562.2H593.8V550.7H594.5V562.2H594.7V550.7H595.4V562.2H595.6V550.7H595.8V562.2H596.7V550.7H596.9V562.2H597.6V550.7H598V562.2H598.5V550.7H600.2V562.2H601.1V550.7H601.3V562.2H602.2V550.7H602.6V562.2H603.7V550.7H604V562.2H604.2V550.7H604.6V562.2H605.3V550.7H605.5V562.2H605.7V550.7H619.8V539.3H620.5V550.7H620.7V539.3H620.9V550.7H621.8V539.3H622.1V550.7H622.3V539.3H622.5V550.7H624.7V539.3H624.9V550.7H626.9V539.3H627.3V550.7H627.8V539.3H628V550.7H628.9V539.3H629.3V550.7H629.6V539.3H629.8V550.7H630.4V539.3H630.7V550.7H630.9V539.3H631.1V550.7H632V539.3H632.4V550.7H633.3V539.3H635.3V550.7H635.7V539.3H635.9V550.7H636.2V539.3H636.6V550.7H637V539.3H637.7V550.7H637.9V539.3H638.2V550.7H640.1V539.3H640.4V550.7H641.2V539.3H642.1V550.7H642.3V539.3H642.6V550.7H643.7V539.3H644.1V550.7H644.5V539.3H644.8V550.7H645.2V539.3H646.1V550.7H647V539.3H647.4V550.7H647.9V539.3H648.3V550.7H648.7V539.3H649.2V550.7H649.6V539.3H649.8V550.7H650.5V539.3H650.7V550.7H650.9V539.3H673" stroke="#000" stroke-width="1.3" fill="none"/>
<path d="M77.5 791H77.6V802.4H77.7V813.9H77.7V825.3H77.8V836.7H77.9V813.9H78V836.7H78.1V825.3H78.2V836.7H78.2V813.9H78.3V825.3H78.6V813.9H78.7V825.3H78.7V836.7H78.8V825.3H78.9V791H79.1V813.9H79.2V836.7H79.4V813.9H79.6V802.4H79.7V791H79.7V813.9H79.8V802.4H79.9V791H80V813.9H80.1V825.3H80.1V813.9H80.4V802.4H80.5V825.3H80.7V802.4H80.8V791H80.9V802.4H81V813.9H81.1V825.3H81.2V813.9H81.3V836.7H81.4V825.3H81.6V802.4H81.6V825.3H81.7V813.9H81.8V836.7H81.9V825.3H82V802.4H82V791H82.1V825.3H82.2V791H82.3V802.4H82.4V813.9H82.5V825.3H82.6V836.7H82.7V825.3H82.8V813.9H83V802.4H83V813.9H83.1V836.7H83.2V802.4H83.3V791H83.4V802.4H83.5V813.9H83.5V802.4H83.6V813.9H83.7V791H83.8V825.3H83.9V802.4H84V813.9H84.1V802.4H84.2V813.9H84.3V825.3H84.4V813.9H84.9V825.3H84.9V813.9H85.1V825.3H85.3V813.9H85.4V802.4H85.5V813.9H85.8V791H85.9V813.9H86V825.3H86.1V791H86.3V825.3H86.4V802.4H86.5V791H86.6V802.4H86.7V813.9H86.8V802.4H86.9V779.5H87V813.9H87.1V791H87.2V813.9H87.3V802.4H87.6V791H87.7V825.3H87.9V802.4H88V813.9H88.3V791H88.3V813.9H88.5V825.3H88.8V813.9H89V802.4H89.2V813.9H89.3V836.7H89.4V825.3H89.5V813.9H89.6V791H89.7V802.4H90V813.9H90.2V802.4H90.2V813.9H90.3V825.3H90.4V813.9H90.5V802.4H90.6V813.9H90.7V802.4H90.8V813.9H91.1V825.3H91.2V802.4H91.3V791H91.4V813.9H91.7V802.4H91.9V813.9H92.1V802.4H92.2V791H92.3V802.4H92.4V813.9H92.6V802.4H92.6V791H92.7V813.9H93V791H93V813.9H93.3V791H93.5V802.4H93.5V791H93.6V813.9H94V802.4H94.1V813.9H94.3V802.4H94.4V813.9H94.5V802.4H94.6V813.9H94.8V825.3H94.9V836.7H95V813.9H95V802.4H95.1V791H95.3V779.5H95.4V791H95.4V768.1H95.5V791H95.6V802.4H95.8V791H95.9V802.4H95.9V791H96V802.4H96.1V791H96.2V802.4H96.3V791H96.4V802.4H96.6V791H96.7V813.9H96.8V802.4H96.9V791H96.9V802.4H97.1V791H97.4V802.4H97.6V813.9H97.7V802.4H97.8V791H97.8V802.4H98V791H98.2V802.4H98.3V813.9H98.3V802.4H98.4V791H98.5V802.4H98.7V813.9H98.8V791H98.8V802.4H98.9V791H99V779.5H99.1V791H99.2V802.4H99.3V791H99.3V779.5H99.4V791H99.5V802.4H99.7V779.5H99.7V791H99.9V813.9H100V768.1H100.1V791H100.2V802.4H100.2V779.5H100.4V813.9H100.5V802.4H100.7V791H101V813.9H101.1V802.4H101.2V791H101.2V802.4H101.3V813.9H101.5V791H101.7V802.4H101.9V779.5H102.1V791H102.3V802.4H102.4V813.9H102.5V779.5H102.6V813.9H102.7V802.4H102.8V791H103V779.5H103.1V791H103.1V802.4H103.2V791H103.3V802.4H103.4V779.5H103.5V802.4H103.6V791H103.6V768.1H103.8V779.5H103.9V802.4H104V791H104.3V802.4H104.4V779.5H104.5V768.1H104.5V791H105V779.5H105.1V768.1H105.2V802.4H105.3V791H105.5V779.5H105.7V802.4H105.8V779.5H106.1V768.1H106.2V802.4H106.3V768.1H106.4V779.5H106.4V768.1H106.5V791H106.6V802.4H106.7V791H106.8V779.5H106.9V802.4H106.9V791H107V779.5H107.3V791H107.4V779.5H107.5V791H107.7V779.5H107.9V756.7H107.9V779.5H108.2V791H108.4V779.5H108.4V791H108.6V779.5H108.7V791H108.8V802.4H108.9V791H109.1V768.1H109.2V779.5H109.3V791H109.4V779.5H109.5V802.4H109.6V791H109.7V779.5H109.8V791H109.9V779.5H110.2V768.1H110.3V791H110.3V779.5H110.5V791H110.6V779.5H110.7V756.7H110.8V791H110.9V802.4H111V779.5H111.1V768.1H111.4V802.4H111.5V791H111.6V768.1H111.7V779.5H111.8V791H111.9V768.1H112V779.5H112.1V802.4H112.2V779.5H112.2V768.1H112.3V791H112.4V768.1H112.5V791H112.7V779.5H112.8V768.1H112.9V756.7H113.1V745.2H113.1V756.7H113.2V791H113.3V768.1H113.4V779.5H113.5V791H113.6V768.1H113.6V791H113.7V779.5H113.9V768.1H114V779.5H114.1V791H114.2V779.5H114.4V802.4H114.5V791H114.6V802.4H114.6V791H114.7V779.5H114.9V745.2H115V768.1H115V779.5H115.2V791H115.3V779.5H115.5V768.1H115.5V791H115.6V813.9H115.7V768.1H115.8V779.5H115.9V791H116V779.5H116V768.1H116.1V779.5H116.3V791H116.5V779.5H116.6V768.1H116.9V791H117V779.5H117V745.2H117.1V768.1H117.3V791H117.4V756.7H117.5V768.1H117.7V779.5H117.9V745.2H117.9V768.1H118V779.5H118.2V756.7H118.3V745.2H118.4V768.1H118.4V779.5H118.5V768.1H118.7V733.8H118.8V756.7H118.9V768.1H119V779.5H119.1V768.1H119.2V791H119.3V779.5H119.5V791H119.6V779.5H119.8V768.1H119.9V756.7H120.1V745.2H120.2V756.7H120.3V768.1H120.3V779.5H120.4V768.1H120.7V756.7H120.8V779.5H120.9V768.1H121V756.7H121.1V768.1H121.2V756.7H121.3V768.1H121.4V779.5H121.5V768.1H121.6V756.7H121.8V768.1H122.2V745.2H122.3V756.7H122.5V779.5H122.6V791H122.7V802.4H122.7V756.7H122.9V768.1H123.2V756.7H123.2V779.5H123.3V756.7H123.4V745.2H123.5V756.7H123.6V768.1H123.7V779.5H123.9V768.1H124.1V791H124.1V756.7H124.3V733.8H124.4V745.2H124.6V756.7H124.6V768.1H124.7V756.7H125.1V768.1H125.2V756.7H125.3V768.1H125.4V779.5H125.5V756.7H125.6V768.1H125.6V756.7H125.8V779.5H125.9V756.7H126V733.8H126V768.1H126.2V779.5H126.3V733.8H126.4V756.7H126.5V768.1H126.7V779.5H126.8V768.1H126.9V756.7H127V745.2H127.2V756.7H127.3V745.2H127.4V756.7H127.5V791H127.6V745.2H127.7V756.7H127.8V745.2H127.9V756.7H128V745.2H128.2V756.7H128.3V745.2H128.4V756.7H128.6V745.2H128.7V756.7H129V745.2H129.1V768.1H129.2V745.2H129.3V733.8H129.4V756.7H129.4V745.2H129.5V756.7H129.6V745.2H129.7V756.7H129.8V768.1H129.9V756.7H129.9V768.1H130V756.7H130.1V768.1H130.4V756.7H130.4V779.5H130.5V768.1H130.6V756.7H130.7V768.1H130.9V756.7H131V768.1H131.2V756.7H131.3V745.2H131.3V768.1H131.4V745.2H131.6V756.7H131.7V768.1H131.8V756.7H132V768.1H132.1V745.2H132.3V756.7H132.3V745.2H132.4V756.7H132.5V745.2H132.6V756.7H132.7V768.1H132.8V733.8H132.9V756.7H133V745.2H133.1V779.5H133.2V745.2H133.6V768.1H133.7V756.7H133.7V745.2H133.8V756.7H133.9V745.2H134V733.8H134.2V745.2H134.3V756.7H134.4V733.8H134.5V745.2H134.6V756.7H134.7V745.2H134.8V733.8H134.9V745.2H135V756.7H135.1V768.1H135.1V745.2H135.3V768.1H135.5V756.7H135.6V733.8H135.7V745.2H135.8V756.7H136V745.2H136.1V756.7H136.1V733.8H136.2V756.7H136.3V768.1H136.4V756.7H136.5V768.1H136.6V745.2H136.7V756.7H136.8V733.8H136.9V756.7H137V745.2H137.1V768.1H137.3V745.2H137.4V756.7H137.5V722.3H137.6V745.2H137.7V733.8H137.8V756.7H137.9V745.2H138V756.7H138V745.2H138.1V733.8H138.4V745.2H138.5V756.7H138.5V722.3H138.6V745.2H138.8V733.8H139V756.7H139V745.2H139.2V733.8H139.3V745.2H139.4V733.8H139.5V745.2H139.6V779.5H139.7V768.1H139.8V745.2H139.9V756.7H140.1V768.1H140.2V733.8H140.3V722.3H140.4V745.2H140.5V733.8H140.7V745.2H141V756.7H141.1V745.2H141.2V756.7H141.3V745.2H141.5V756.7H141.6V733.8H141.7V745.2H141.8V756.7H141.8V745.2H142.1V756.7H142.2V733.8H142.3V745.2H142.5V756.7H142.6V733.8H142.7V722.3H142.8V733.8H142.9V756.7H143V745.2H143.3V733.8H143.4V722.3H143.5V745.2H143.6V733.8H143.7V745.2H143.8V733.8H144V745.2H144.1V733.8H144.2V710.9H144.2V756.7H144.3V745.2H144.4V733.8H144.5V745.2H144.6V756.7H144.7V733.8H144.8V722.3H144.9V733.8H145.2V722.3H145.3V745.2H145.5V733.8H145.7V745.2H145.8V733.8H145.9V745.2H146V756.7H146.2V745.2H146.7V733.8H146.9V756.7H147V745.2H147.1V733.8H147.1V722.3H147.2V733.8H147.5V745.2H147.7V733.8H147.8V745.2H148V756.7H148.1V745.2H148.3V722.3H148.4V710.9H148.5V733.8H148.5V722.3H148.6V745.2H148.7V722.3H148.8V733.8H149.3V745.2H149.5V733.8H149.7V722.3H149.8V733.8H149.9V745.2H150V722.3H150V733.8H150.2V722.3H150.3V733.8H150.5V722.3H150.6V745.2H150.7V733.8H150.9V745.2H150.9V733.8H151V745.2H151.1V733.8H151.4V745.2H151.5V733.8H151.6V756.7H151.8V733.8H151.9V756.7H151.9V745.2H152.2V722.3H152.3V710.9H152.4V733.8H152.6V722.3H152.7V756.7H152.8V733.8H152.8V710.9H152.9V733.8H153V699.5H153.1V733.8H153.2V710.9H153.3V733.8H153.3V756.7H153.4V745.2H153.5V733.8H153.8V722.3H153.9V733.8H154V722.3H154.1V745.2H154.2V722.3H154.3V745.2H154.4V722.3H154.7V733.8H154.8V722.3H154.9V745.2H155V722.3H155.1V745.2H155.2V722.3H155.2V733.8H155.4V745.2H155.6V722.3H155.7V733.8H155.7V756.7H155.8V733.8H155.9V745.2H156V722.3H156.1V733.8H156.2V710.9H156.2V722.3H156.3V745.2H156.4V733.8H156.6V722.3H156.8V710.9H156.9V722.3H157.1V733.8H157.1V745.2H157.2V733.8H157.5V722.3H157.6V710.9H157.7V722.3H157.8V745.2H157.9V733.8H158V722.3H158.1V733.8H158.1V710.9H158.2V733.8H158.3V768.1H158.4V722.3H158.5V733.8H158.7V722.3H158.9V710.9H159V722.3H159.1V733.8H159.1V722.3H159.2V699.5H159.3V722.3H159.4V733.8H159.5V768.1H159.5V745.2H159.8V733.8H159.9V710.9H160V733.8H160.1V745.2H160.2V733.8H160.3V722.3H160.4V745.2H160.5V733.8H160.5V745.2H160.6V722.3H160.8V745.2H160.9V733.8H161V745.2H161.1V722.3H161.4V710.9H161.5V733.8H161.6V756.7H161.7V745.2H161.8V733.8H161.9V745.2H162.2V722.3H162.3V710.9H162.4V733.8H162.5V710.9H162.6V733.8H162.8V722.3H162.9V710.9H163.1V722.3H163.4V733.8H163.6V745.2H163.7V722.3H163.8V733.8H163.8V722.3H163.9V733.8H164V722.3H164.2V733.8H164.3V722.3H164.3V733.8H164.4V722.3H164.5V710.9H164.7V722.3H164.8V733.8H164.9V722.3H165V710.9H165.2V733.8H165.3V722.3H165.3V699.5H165.4V722.3H165.5V710.9H165.6V722.3H165.7V710.9H165.7V722.3H165.9V745.2H166V722.3H166.1V733.8H166.2V722.3H166.2V710.9H166.3V722.3H166.5V710.9H166.6V722.3H166.7V699.5H166.7V710.9H166.8V722.3H167.2V733.8H167.2V722.3H167.4V710.9H167.5V733.8H167.6V710.9H167.7V733.8H167.8V710.9H167.9V733.8H168V722.3H168.1V733.8H168.1V756.7H168.2V710.9H168.3V722.3H168.5V710.9H168.6V733.8H168.6V722.3H168.8V733.8H168.9V710.9H169V722.3H169.1V733.8H169.2V710.9H169.5V733.8H169.6V722.3H170V733.8H170.1V710.9H170.1V722.3H170.3V733.8H170.4V722.3H170.5V733.8H170.6V710.9H170.7V733.8H170.8V722.3H171V710.9H171.1V722.3H171.2V733.8H171.4V699.5H171.5V688H171.5V710.9H172V722.3H172V733.8H172.2V710.9H172.3V722.3H172.4V710.9H172.4V733.8H172.6V722.3H172.7V733.8H172.8V722.3H172.9V710.9H172.9V722.3H173.1V710.9H173.2V699.5H173.3V688H173.4V676.6H173.4V710.9H173.5V699.5H173.6V722.3H173.7V710.9H173.8V745.2H173.9V722.3H174.2V710.9H174.3V722.3H174.4V710.9H174.7V722.3H174.8V710.9H174.9V722.3H175V733.8H175.1V722.3H175.3V710.9H175.3V722.3H175.5V710.9H175.8V699.5H175.9V722.3H176V710.9H176.1V733.8H176.2V699.5H176.3V710.9H176.4V699.5H176.5V722.3H176.6V710.9H176.7V699.5H176.8V722.3H177V733.8H177.1V710.9H177.2V733.8H177.3V722.3H177.4V710.9H177.5V722.3H177.7V699.5H177.9V710.9H178V699.5H178.1V710.9H178.2V699.5H178.2V710.9H178.3V699.5H178.4V710.9H178.5V722.3H178.7V710.9H178.9V699.5H179V688H179.1V699.5H179.2V722.3H179.3V710.9H179.5V699.5H179.6V710.9H179.6V722.3H179.7V710.9H179.8V699.5H179.9V722.3H180V733.8H180.1V722.3H180.1V699.5H180.2V710.9H180.4V699.5H180.5V710.9H180.6V722.3H180.7V710.9H180.9V699.5H181.1V722.3H181.1V733.8H181.2V710.9H181.3V733.8H181.4V699.5H181.5V710.9H181.8V722.3H181.9V699.5H182V710.9H182.1V722.3H182.2V710.9H182.4V699.5H182.5V710.9H183.2V699.5H183.4V710.9H183.5V722.3H183.6V699.5H183.8V710.9H183.9V722.3H184V699.5H184.2V710.9H184.3V722.3H184.4V710.9H184.5V699.5H184.6V710.9H184.7V722.3H184.8V699.5H184.9V688H184.9V710.9H185.1V699.5H185.2V722.3H185.3V699.5H185.4V710.9H185.7V722.3H185.8V710.9H185.8V722.3H185.9V710.9H186V688H186.1V710.9H186.3V722.3H186.4V710.9H186.5V688H186.6V699.5H186.8V710.9H186.8V699.5H186.9V710.9H187V722.3H187.1V710.9H187.4V699.5H187.5V710.9H187.7V722.3H187.8V710.9H187.8V722.3H187.9V699.5H188.1V722.3H188.2V699.5H188.2V710.9H188.3V699.5H188.4V710.9H188.6V699.5H188.7V688H188.7V699.5H188.8V710.9H188.9V688H189V699.5H189.1V710.9H189.2V733.8H189.3V722.3H189.5V710.9H189.6V699.5H189.7V688H189.7V699.5H189.8V710.9H189.9V722.3H190V710.9H190.1V676.6H190.2V699.5H190.3V710.9H190.6V688H190.9V699.5H191V722.3H191.1V699.5H191.3V676.6H191.4V688H191.5V699.5H191.6V688H191.6V699.5H192.1V710.9H192.1V699.5H192.3V688H192.4V710.9H192.9V699.5H193V710.9H193.1V699.5H193.2V688H193.3V699.5H193.4V710.9H193.5V699.5H193.5V688H193.6V699.5H193.8V688H193.9V676.6H194V699.5H194V688H194.1V699.5H194.3V710.9H194.4V699.5H194.5V688H194.6V699.5H194.7V710.9H194.8V688H194.9V665.1H194.9V688H195V699.5H195.3V688H195.4V699.5H195.7V688H195.8V699.5H196.1V688H196.2V710.9H196.3V699.5H196.4V688H196.5V710.9H196.6V688H196.8V699.5H197.3V710.9H197.3V699.5H197.5V710.9H197.8V699.5H197.8V710.9H197.9V699.5H198.1V710.9H198.2V699.5H198.5V688H198.6V676.6H198.8V699.5H198.8V710.9H199V699.5H199.1V688H199.5V699.5H199.6V688H199.7V699.5H199.7V688H199.8V676.6H200V699.5H200.1V688H200.2V699.5H200.2V688H200.3V699.5H200.4V710.9H200.6V699.5H200.7V688H200.7V699.5H200.9V710.9H201.1V699.5H201.5V722.3H201.6V699.5H201.7V710.9H201.8V688H202V676.6H202.1V688H202.1V699.5H202.2V688H202.3V699.5H202.4V688H202.5V699.5H202.6V688H202.9V699.5H203.1V688H203.1V699.5H203.2V710.9H203.3V688H203.4V699.5H203.5V688H203.6V699.5H203.7V688H203.8V699.5H204V688H204.2V699.5H204.3V688H204.5V699.5H204.6V688H205V676.6H205V699.5H205.1V676.6H205.2V688H205.3V676.6H205.4V688H205.4V699.5H205.5V688H205.6V699.5H205.8V688H205.9V699.5H206V688H206.1V699.5H206.3V710.9H206.4V699.5H206.5V688H206.7V676.6H206.8V688H206.9V676.6H206.9V688H207.1V699.5H207.2V688H207.3V699.5H207.4V688H207.5V676.6H207.6V688H207.7V699.5H207.8V688H207.9V722.3H208V710.9H208.1V699.5H208.2V710.9H208.3V699.5H208.4V676.6H208.5V699.5H208.7V688H208.8V676.6H208.8V665.1H208.9V676.6H209.2V688H209.3V699.5H209.3V688H209.5V699.5H209.6V688H209.8V699.5H209.8V676.6H209.9V699.5H210V688H210.3V710.9H210.4V699.5H210.5V688H210.6V699.5H210.7V676.6H210.7V699.5H210.9V688H211.1V676.6H211.2V688H211.6V699.5H211.7V688H211.7V676.6H211.8V699.5H211.9V688H212V676.6H212.1V688H212.1V699.5H212.2V688H212.6V710.9H212.6V688H213V676.6H213.1V699.5H213.1V688H213.6V676.6H213.8V688H214V699.5H214.2V688H214.5V676.6H214.8V688H214.9V676.6H215.1V688H215.4V699.5H215.5V688H215.8V699.5H215.9V688H216.2V699.5H216.5V688H216.7V676.6H216.8V665.1H216.9V688H216.9V676.6H217V688H217.3V699.5H217.4V688H217.7V699.5H217.9V688H218V676.6H218.3V699.5H218.4V688H218.7V710.9H218.8V699.5H218.8V688H219V676.6H219.2V699.5H219.3V688H219.3V676.6H219.5V688H219.8V676.6H220V688H220.1V676.6H220.3V688H220.4V665.1H220.5V699.5H220.6V676.6H220.7V688H220.9V699.5H221V688H221.1V676.6H221.2V688H221.5V676.6H221.7V688H221.7V676.6H221.8V699.5H221.9V688H222.1V676.6H222.2V688H222.4V676.6H222.5V688H222.7V676.6H222.8V665.1H222.9V688H223V676.6H223.4V688H223.6V676.6H223.7V688H223.8V676.6H223.9V688H224.1V676.6H224.1V665.1H224.3V676.6H224.5V688H224.6V676.6H224.7V688H224.9V665.1H225V688H225.1V676.6H225.2V688H225.3V676.6H225.4V688H225.5V676.6H225.6V688H225.8V699.5H226V688H226V699.5H226.1V688H226.3V676.6H226.5V688H226.5V676.6H226.8V688H226.9V676.6H227V688H227.1V676.6H227.6V688H227.7V676.6H227.8V665.1H227.9V676.6H228.2V688H228.3V676.6H228.4V665.1H228.5V676.6H228.6V688H228.7V676.6H229V665.1H229.1V676.6H229.2V688H229.4V699.5H229.5V688H229.8V676.6H229.8V688H229.9V676.6H230.3V688H230.4V676.6H230.5V688H230.7V676.6H230.8V688H231.1V676.6H231.3V688H231.3V676.6H231.6V688H231.8V676.6H231.9V688H232V676.6H232.1V665.1H232.2V688H232.2V676.6H232.4V665.1H232.5V676.6H232.6V665.1H232.7V676.6H232.8V688H232.9V676.6H233.1V688H233.2V676.6H233.3V688H233.4V676.6H233.5V688H233.7V676.6H233.8V688H233.9V676.6H234.1V688H234.1V676.6H234.3V688H234.6V676.6H234.6V699.5H234.9V688H235.1V676.6H235.1V665.1H235.2V688H235.3V676.6H235.5V665.1H235.6V676.6H236.1V688H236.1V676.6H236.4V688H236.5V665.1H236.6V676.6H237V688H237V676.6H237.1V665.1H237.2V676.6H237.3V688H237.4V676.6H237.8V688H238V676.6H238.2V688H238.3V676.6H238.6V688H238.8V665.1H238.9V676.6H238.9V688H239V676.6H239.4V665.1H239.5V688H239.7V665.1H239.8V676.6H239.9V688H240V665.1H240.4V676.6H240.4V665.1H240.5V676.6H240.8V665.1H240.9V676.6H241.2V688H241.3V665.1H241.4V688H241.5V676.6H241.6V688H241.7V676.6H241.8V688H242.3V665.1H242.3V676.6H242.5V688H242.6V676.6H242.8V665.1H242.9V676.6H243.3V688H243.5V676.6H243.7V688H243.7V665.1H243.8V676.6H244.2V688H244.3V676.6H244.4V688H244.5V676.6H244.6V688H244.7V676.6H244.7V688H244.8V676.6H246.1V688H246.2V676.6H246.3V688H246.4V676.6H247.2V688H247.5V676.6H247.6V688H247.8V676.6H248V688H248.1V676.6H248.4V665.1H248.5V676.6H249V665.1H249V676.6H249.4V665.1H249.5V676.6H249.5V665.1H249.6V676.6H249.8V688H249.9V676.6H250.4V688H250.8V676.6H251.9V665.1H252.1V676.6H252.4V688H252.5V676.6H252.9V688H253V676.6H253.4V688H253.5V676.6H253.8V665.1H254V676.6H254.6V688H254.7V676.6H254.9V665.1H255V676.6H255.5V688H255.7V676.6H255.7V665.1H255.8V676.6H256V688H256.1V676.6H258.8V665.1H259.1V676.6H261.1V665.1H261.4V688H261.8V676.6H266.1V665.1H266.4V676.6H266.7V665.1H267.1V676.6H268.1V665.1H268.4V676.6H268.7V665.1H269.1V676.6H269.4V665.1H269.7V676.6H270.7V665.1H271.4V676.6H272V665.1H273.4V676.6H273.7V665.1H275V676.6H276.3V688H276.7V665.1H278V676.6H278.6V665.1H279.3V676.6H281.6V665.1H282V676.6H282.6V665.1H282.9V676.6H283.6V665.1H283.9V676.6H286.3V665.1H286.6V676.6H287.2V665.1H288.2V676.6H288.6V665.1H288.9V676.6H290.6V688H291.2V676.6H291.5V665.1H291.9V676.6H292.5V665.1H292.9V676.6H293.9V665.1H294.9V676.6H296.8V665.1H297.2V676.6H298.2V665.1H299.2V676.6H300.8V665.1H301.5V676.6H301.8V665.1H302.5V676.6H303.5V665.1H303.8V676.6H304.1V665.1H307.8V676.6H308.1V653.7H308.8V665.1H310.1V653.7H310.4V665.1H310.7V653.7H311.4V665.1H311.7V653.7H312.1V665.1H313.4V653.7H314V665.1H315V653.7H316V665.1H316.4V653.7H317.4V665.1H317.7V653.7H318.7V665.1H319V653.7H321.7V665.1H322.3V676.6H322.6V665.1H324.3V653.7H327.3V665.1H327.6V653.7H328.3V665.1H329.3V653.7H329.6V665.1H329.9V653.7H330.3V665.1H331.2V653.7H331.6V665.1H332.2V653.7H332.9V665.1H333.6V653.7H334.9V665.1H335.2V653.7H336.5V665.1H337.2V653.7H337.5V665.1H337.9V653.7H338.2V676.6H338.5V665.1H338.9V653.7H340.8V665.1H341.8V653.7H342.2V665.1H343.2V653.7H343.5V665.1H343.8V653.7H345.8V665.1H346.8V653.7H347.5V665.1H348.5V653.7H350.1V665.1H351.1V653.7H351.4V665.1H351.8V653.7H352.4V665.1H352.8V653.7H353.7V665.1H354.1V653.7H354.7V665.1H355.4V676.6H355.7V653.7H356.1V665.1H357.1V653.7H357.4V665.1H358.7V653.7H359.4V665.1H359.7V653.7H360.4V665.1H361V653.7H364V665.1H365V653.7H365.3V642.3H365.7V653.7H366.3V642.3H366.6V653.7H367.3V642.3H368.3V653.7H368.6V642.3H369V653.7H369.6V642.3H370V653.7H370.6V642.3H370.9V653.7H371.6V642.3H372.9V653.7H373.6V642.3H374.9V653.7H377.6V642.3H377.9V653.7H378.6V642.3H379.9V653.7H380.2V642.3H380.5V653.7H380.9V642.3H381.5V653.7H381.9V642.3H382.2V653.7H383.9V642.3H384.5V653.7H385.5V642.3H385.8V653.7H386.2V642.3H386.8V653.7H387.2V642.3H387.8V653.7H388.5V642.3H389.5V653.7H390.8V642.3H391.1V665.1H391.5V653.7H393.8V642.3H394.4V653.7H394.8V642.3H395.4V653.7H396.1V642.3H397.1V653.7H397.7V642.3H398.7V653.7H399.7V642.3H400.7V630.8H401.1V642.3H401.4V653.7H401.7V642.3H402.7V653.7H403.4V642.3H405.4V653.7H405.7V642.3H406V653.7H407V642.3H407.7V676.6H408V653.7H408.3V642.3H408.7V653.7H409.7V642.3H410V653.7H410.3V642.3H412V653.7H413.6V642.3H414.3V653.7H415.3V642.3H417.3V653.7H417.6V642.3H417.9V653.7H418.3V642.3H418.6V653.7H419.6V642.3H419.9V653.7H420.9V642.3H423.2V653.7H423.6V642.3H424.9V653.7H425.2V642.3H425.5V630.8H425.9V642.3H426.2V653.7H426.5V642.3H426.9V653.7H427.9V642.3H428.5V653.7H428.8V642.3H429.5V653.7H429.8V642.3H430.2V653.7H431.5V642.3H432.5V653.7H432.8V642.3H434.1V653.7H435.8V642.3H436.1V653.7H436.5V642.3H437.4V653.7H439.1V642.3H439.4V653.7H440.8V642.3H441.1V653.7H441.4V642.3H442.1V653.7H443.1V642.3H443.4V653.7H444.4V642.3H445.4V653.7H448.4V642.3H450.7V653.7H451V642.3H453V630.8H453.3V642.3H454V653.7H454.3V642.3H455V653.7H455.6V642.3H456.6V653.7H457.6V642.3H458.3V630.8H460.3V642.3H460.6V630.8H460.9V642.3H461.6V630.8H461.9V642.3H462.6V630.8H464.2V642.3H465.2V630.8H466.9V642.3H467.2V630.8H467.9V642.3H468.2V630.8H469.5V642.3H471.2V630.8H473.2V619.4H473.5V630.8H473.8V619.4H474.2V630.8H475.2V642.3H475.5V630.8H476.2V642.3H476.8V630.8H477.1V642.3H477.8V630.8H478.1V642.3H478.8V630.8H479.1V642.3H479.5V630.8H480.5V642.3H481.1V630.8H482.1V642.3H482.4V630.8H484.4V642.3H484.8V630.8H485.1V642.3H485.4V630.8H486.4V642.3H487.1V630.8H487.4V642.3H488.4V630.8H488.7V642.3H489.1V630.8H489.7V642.3H490V630.8H490.7V642.3H492V630.8H492.4V642.3H493V630.8H493.4V642.3H494V630.8H495V619.4H495.3V642.3H496.3V630.8H496.7V642.3H497V630.8H497.3V642.3H498.3V630.8H500.3V642.3H501.6V630.8H502V642.3H503.6V630.8H504.3V642.3H505.3V630.8H505.6V642.3H506.6V630.8H506.9V619.4H507.3V630.8H507.6V642.3H507.9V630.8H508.6V642.3H508.9V630.8H509.2V642.3H510.2V630.8H510.6V642.3H510.9V630.8H511.2V642.3H512.5V630.8H512.9V642.3H514.2V630.8H514.9V642.3H516.2V630.8H516.5V642.3H516.8V630.8H517.2V642.3H518.5V630.8H519.2V642.3H520.2V630.8H520.8V642.3H521.1V630.8H522.1V619.4H522.5V630.8H522.8V642.3H523.8V630.8H525.1V642.3H525.8V630.8H526.8V642.3H527.4V630.8H528.4V642.3H528.8V630.8H529.4V642.3H531.1V630.8H532.1V642.3H533.1V630.8H534V642.3H534.7V630.8H535.4V642.3H535.7V630.8H536.7V642.3H537V630.8H537.7V642.3H538V630.8H539V642.3H539.3V630.8H539.7V642.3H540V653.7H540.3V642.3H540.7V630.8H541.3V642.3H541.7V630.8H543.3V642.3H543.6V630.8H544.6V642.3H545V630.8H546V642.3H546.3V630.8H547V642.3H547.6V630.8H548.6V642.3H548.9V630.8H549.9V642.3H550.3V630.8H550.6V642.3H551.3V630.8H551.6V642.3H551.9V630.8H552.9V642.3H553.9V630.8H554.6V642.3H555.2V630.8H555.6V642.3H556.5V630.8H556.9V642.3H557.2V630.8H557.9V642.3H558.2V630.8H558.5V642.3H560.2V630.8H560.5V642.3H560.8V630.8H564.5V642.3H565.1V630.8H566.1V642.3H567.1V630.8H568.1V642.3H569.1V630.8H570.4V642.3H571.1V630.8H572.1V642.3H572.4V630.8H573.1V642.3H573.8V630.8H574.4V642.3H574.7V630.8H576.7V642.3H577.1V630.8H578.7V619.4H580V630.8H581.7V619.4H582V642.3H582.4V619.4H584.3V630.8H584.7V619.4H585.7V630.8H586.7V619.4H587V642.3H587.3V630.8H588V619.4H588.6V630.8H589.3V619.4H589.6V630.8H590.3V619.4H590.6V630.8H591V619.4H591.6V630.8H591.9V619.4H592.3V630.8H592.6V642.3H592.9V630.8H594.9V619.4H595.3V630.8H595.6V619.4H596.6V630.8H596.9V642.3H597.2V619.4H597.6V630.8H597.9V619.4H598.6V630.8H600.9V619.4H601.2V630.8H602.2V619.4H602.5V630.8H603.2V619.4H603.9V630.8H604.2V619.4H604.5V630.8H605.2V619.4H605.5V630.8H605.8V619.4H606.2V630.8H606.5V619.4H608.5V630.8H609.1V619.4H610.5V630.8H611.5V619.4H612.1V630.8H612.8V619.4H614.4V630.8H615.4V619.4H615.8V630.8H616.4V619.4H617.1V630.8H618.1V619.4H618.7V630.8H619.1V619.4H619.4V630.8H620.1V619.4H621.4V630.8H621.7V619.4H623.4V630.8H624.7V619.4H626V630.8H626.7V642.3H627V630.8H627.3V619.4H627.7V630.8H628.7V619.4H629.3V630.8H629.7V619.4H630.3V630.8H631.3V619.4H633.6V630.8H634.6V619.4H635V630.8H635.6V619.4H635.9V630.8H637.3V619.4H637.9V630.8H638.3V619.4H638.6V630.8H639.6V619.4H640.6V630.8H640.9V619.4H641.2V630.8H641.6V619.4H641.9V630.8H642.2V619.4H642.9V630.8H644.9V619.4H645.5V630.8H646.5V619.4H648.5V630.8H650.2V619.4H650.8V630.8H651.5V619.4H652.2V630.8H652.5V619.4H652.8V630.8H653.5V619.4H657.5V630.8H658.1V619.4H659.1V630.8H659.8V619.4H660.1V630.8H661.8V619.4H662.4V630.8H663.1V619.4H663.4V630.8H663.7V619.4H664.1V630.8H664.4V619.4H664.7V630.8H665.7V619.4H666.1V630.8H666.7V619.4H667V630.8H667.4V619.4H668.7V607.9H669.4V619.4H670.4V630.8H671V619.4H671.3V630.8H672V619.4H672.7V630.8H673" stroke="#00f" stroke-width="1.3" fill="none"/>
</g>
<path d="M77.5 882.4L77.5 875.4M77.5 482L77.5 489M127.1 882.4L127.1 878.4M127.1 482L127.1 486M176.8 882.4L176.8 875.4M176.8 482L176.8 489M226.4 882.4L226.4 878.4M226.4 482L226.4 486M276 882.4L276 875.4M276 482L276 489M325.6 882.4L325.6 878.4M325.6 482L325.6 486M375.2 882.4L375.2 875.4M375.2 482L375.2 489M424.9 882.4L424.9 878.4M424.9 482L424.9 486M474.5 882.4L474.5 875.4M474.5 482L474.5 489M524.1 882.4L524.1 878.4M524.1 482L524.1 486M573.8 882.4L573.8 875.4M573.8 482L573.8 489M623.4 882.4L623.4 878.4M623.4 482L623.4 486M673 882.4L673 875.4M673 482L673 489M77.5 882.5L85.5 882.5M673 882.5L665 882.5M77.5 853.9L81.5 853.9M673 853.9L669 853.9M77.5 825.3L85.5 825.3M673 825.3L665 825.3M77.5 796.7L81.5 796.7M673 796.7L669 796.7M77.5 768.1L85.5 768.1M673 768.1L665 768.1M77.5 739.5L81.5 739.5M673 739.5L669 739.5M77.5 710.9L85.5 710.9M673 710.9L665 710.9M77.5 682.3L81.5 682.3M673 682.3L669 682.3M77.5 653.7L85.5 653.7M673 653.7L665 653.7M77.5 625.1L81.5 625.1M673 625.1L669 625.1M77.5 596.5L85.5 596.5M673 596.5L665 596.5M77.5 567.9L81.5 567.9M673 567.9L669 567.9M77.5 539.3L85.5 539.3M673 539.3L665 539.3M77.5 510.7L81.5 510.7M673 510.7L669 510.7M77.5 482.1L85.5 482.1M673 482.1L665 482.1" stroke="#222" stroke-width="1.5" fill="none"/>
<rect x="77.5" y="482" width="595.5" height="400.4" stroke="#222" stroke-width="1.5" fill="none" />
<text x="69.5" y="889.5" font-size="19.5" text-anchor="end" textLength="37.3" lengthAdjust="spacingAndGlyphs" fill="#111" >-0,5</text>
<text x="69.5" y="832.3" font-size="19.5" text-anchor="end" textLength="29.5" lengthAdjust="spacingAndGlyphs" fill="#111" >0,0</text>
<text x="69.5" y="775.1" font-size="19.5" text-anchor="end" textLength="29.5" lengthAdjust="spacingAndGlyphs" fill="#111" >0,5</text>
<text x="69.5" y="717.9" font-size="19.5" text-anchor="end" textLength="29.5" lengthAdjust="spacingAndGlyphs" fill="#111" >1,0</text>
<text x="69.5" y="660.7" font-size="19.5" text-anchor="end" textLength="29.5" lengthAdjust="spacingAndGlyphs" fill="#111" >1,5</text>
<text x="69.5" y="603.5" font-size="19.5" text-anchor="end" textLength="29.5" lengthAdjust="spacingAndGlyphs" fill="#111" >2,0</text>
<text x="69.5" y="546.3" font-size="19.5" text-anchor="end" textLength="29.5" lengthAdjust="spacingAndGlyphs" fill="#111" >2,5</text>
<text x="69.5" y="489.1" font-size="19.5" text-anchor="end" textLength="29.5" lengthAdjust="spacingAndGlyphs" fill="#111" >3,0</text>
<text x="77.5" y="907.8" font-size="19" text-anchor="middle" textLength="11.2" lengthAdjust="spacingAndGlyphs" fill="#111" >0</text>
<text x="176.8" y="907.8" font-size="19" text-anchor="middle" textLength="11.2" lengthAdjust="spacingAndGlyphs" fill="#111" >5</text>
<text x="276" y="907.8" font-size="19" text-anchor="middle" textLength="23.7" lengthAdjust="spacingAndGlyphs" fill="#111" >10</text>
<text x="375.2" y="907.8" font-size="19" text-anchor="middle" textLength="23.7" lengthAdjust="spacingAndGlyphs" fill="#111" >15</text>
<text x="474.5" y="907.8" font-size="19" text-anchor="middle" textLength="23.7" lengthAdjust="spacingAndGlyphs" fill="#111" >20</text>
<text x="573.8" y="907.8" font-size="19" text-anchor="middle" textLength="23.7" lengthAdjust="spacingAndGlyphs" fill="#111" >25</text>
<text x="673" y="907.8" font-size="19" text-anchor="middle" textLength="23.7" lengthAdjust="spacingAndGlyphs" fill="#111" >30</text>
<text x="0" y="0" transform="translate(29.5,653.4) rotate(-90)" font-size="30" text-anchor="middle" textLength="97" lengthAdjust="spacingAndGlyphs" fill="#111" >ΔT (°C)</text>
<text x="337.2" y="931.5" font-size="24.3" textLength="74.5" lengthAdjust="spacingAndGlyphs" fill="#111" >t (min)</text>
<line x1="507.2" y1="805.5" x2="555.2" y2="805.5" stroke="#f44" stroke-width="1.2" />
<line x1="507.2" y1="831.3" x2="555.2" y2="831.3" stroke="#777" stroke-width="1.2" />
<line x1="507.2" y1="857.7" x2="555.2" y2="857.7" stroke="#44f" stroke-width="1.2" />
<text x="561.5" y="812.5" font-size="19" textLength="71.3" lengthAdjust="spacingAndGlyphs" fill="#111" >Hexane</text>
<text x="561.5" y="838.3" font-size="19" textLength="56.9" lengthAdjust="spacingAndGlyphs" fill="#111" >MNPs</text>
<text x="561.5" y="863.8" font-size="19" textLength="89" lengthAdjust="spacingAndGlyphs" fill="#111" >Diference</text>
<text x="600.5" y="526.2" font-size="40" fill="#111" >b)</text>
<rect x="81.8" y="662.7" width="86.4" height="29.1" stroke="#999" stroke-width="1" fill="#fcfcfc" />
<text x="90.2" y="683.2" font-size="16.2" textLength="69" lengthAdjust="spacingAndGlyphs" fill="#111" >AMF On</text>
<line x1="111.5" y1="694" x2="87" y2="769.5" stroke="#555" stroke-width="1" />
<path d="M83.3 779.5L83.5 768L89.5 770.2Z" fill="#111"/>
<rect x="138.2" y="485.6" width="208.4" height="128.6" stroke="none" stroke-width="0" fill="#fff" />
<line x1="138.2" y1="573.8" x2="346.6" y2="573.8" stroke="#dcdcdc" stroke-width="1" />
<line x1="138.2" y1="533.6" x2="346.6" y2="533.6" stroke="#dcdcdc" stroke-width="1" />
<line x1="138.2" y1="493.4" x2="346.6" y2="493.4" stroke="#dcdcdc" stroke-width="1" />
<line x1="138.2" y1="593.9" x2="346.6" y2="593.9" stroke="#d8f0d8" stroke-width="1" />
<line x1="138.2" y1="553.7" x2="346.6" y2="553.7" stroke="#d8f0d8" stroke-width="1" />
<line x1="138.2" y1="513.5" x2="346.6" y2="513.5" stroke="#d8f0d8" stroke-width="1" />
<clipPath id="clipIB"><rect x="138.2" y="485.6" width="208.4" height="128.6"/></clipPath>
<g clip-path="url(#clipIB)">
<path d="M138.2 614H139.6V606H140.1V614H140.6V606H140.8V597.9H141.1V606H141.3V597.9H141.5V606H141.7V614H141.8V606H142.2V597.9H142.4V606H143.1V597.9H143.2V606H143.4V614H144.1V606H144.4V614H145.8V606H146.2V614H146.9V606H147.2V614H148.3V606H148.6V597.9H148.9V614H149.5V606H149.8V614H150V606H150.2V614H150.9V606H151V614H151.4V606H151.7V597.9H152.1V606H152.2V597.9H152.4V606H152.6V614H152.8V606H153.5V597.9H153.6V589.9H153.8V597.9H154V606H154.1V614H154.3V606H154.5V597.9H154.7V606H155V589.9H155.2V597.9H155.4V606H155.7V614H156.1V606H156.2V614H156.4V606H156.7V597.9H156.9V614H157.1V597.9H157.4V606H157.8V597.9H158V606H158.1V597.9H158.3V606H158.8V597.9H159V589.9H159.3V597.9H159.5V589.9H159.9V597.9H160V606H160.4V597.9H160.6V606H160.9V597.9H161.1V606H161.3V589.9H161.4V597.9H161.6V614H161.8V597.9H162.3V589.9H162.6V597.9H162.8V589.9H163V597.9H163.7V606H164V597.9H164.2V589.9H164.5V597.9H164.9V606H165.2V589.9H165.4V606H165.6V597.9H165.8V614H165.9V606H166.1V597.9H166.5V606H167.1V597.9H167.5V589.9H167.7V597.9H167.8V589.9H168V597.9H168.4V589.9H168.5V597.9H169.6V606H169.7V597.9H170.1V589.9H170.8V597.9H172V589.9H172.7V581.8H172.9V589.9H173.7V597.9H174.1V606H174.3V597.9H174.4V589.9H175.1V597.9H175.6V589.9H176V573.8H176.2V581.8H176.3V573.8H176.5V581.8H176.7V589.9H177V581.8H178.4V589.9H179.3V581.8H180.3V589.9H180.5V581.8H181.2V573.8H181.4V581.8H181.9V597.9H182.1V589.9H182.2V581.8H183.6V597.9H183.8V589.9H184.1V581.8H184.3V589.9H184.7V581.8H185.5V589.9H185.7V581.8H186.7V573.8H187.1V589.9H187.8V573.8H187.9V581.8H188.1V573.8H188.3V581.8H188.6V573.8H188.8V565.8H189.2V573.8H189.5V565.8H189.7V573.8H189.9V581.8H190V573.8H190.4V581.8H190.5V573.8H190.7V565.8H190.9V573.8H191.2V581.8H191.6V573.8H191.9V565.8H192.5V573.8H193.1V565.8H193.3V573.8H193.5V565.8H193.8V581.8H194V573.8H194.2V565.8H195.2V573.8H195.4V565.8H195.6V573.8H196.4V565.8H196.8V573.8H197V581.8H197.5V573.8H198V581.8H198.3V565.8H198.5V573.8H198.7V589.9H198.9V573.8H199V581.8H199.2V589.9H199.4V581.8H199.6V573.8H199.7V581.8H199.9V573.8H200.1V581.8H200.3V573.8H200.4V565.8H200.6V573.8H200.8V589.9H200.9V581.8H201.1V565.8H201.6V573.8H202V581.8H202.2V573.8H202.7V565.8H202.9V573.8H203.2V565.8H203.7V557.7H204.2V565.8H204.4V557.7H204.6V565.8H205.1V573.8H205.3V565.8H205.5V573.8H205.6V565.8H206.5V573.8H206.7V565.8H207V573.8H207.2V549.7H207.4V557.7H207.9V573.8H208.2V557.7H208.4V581.8H208.6V573.8H208.7V565.8H209.6V557.7H209.8V565.8H210V557.7H210.1V565.8H210.3V557.7H210.5V573.8H210.7V565.8H212V573.8H212.4V565.8H212.6V557.7H212.7V549.7H212.9V557.7H213.6V565.8H214.1V557.7H214.3V549.7H214.5V557.7H214.8V549.7H215V557.7H215.2V549.7H215.9V557.7H216.2V565.8H216.4V557.7H217.2V565.8H217.8V549.7H218.1V565.8H218.3V557.7H219.1V565.8H219.3V557.7H219.5V549.7H219.7V557.7H219.8V565.8H220V557.7H220.4V565.8H221.1V557.7H221.2V549.7H221.6V557.7H222.1V549.7H222.4V557.7H223V549.7H223.1V557.7H223.3V549.7H223.5V565.8H224.2V557.7H224.3V549.7H224.5V557.7H224.7V565.8H225V557.7H225.2V565.8H225.6V557.7H225.9V565.8H226.1V557.7H226.4V565.8H226.8V557.7H227.1V565.8H227.3V557.7H227.6V541.6H227.8V533.6H228V549.7H228.7V541.6H228.9V549.7H229.4V557.7H229.7V549.7H230.1V557.7H230.9V549.7H231.3V557.7H231.5V541.6H231.8V549.7H232.7V565.8H232.8V557.7H233V549.7H233.2V557.7H233.5V549.7H234.2V557.7H234.4V549.7H235.1V541.6H235.4V549.7H235.8V557.7H236V549.7H236.1V557.7H236.7V549.7H236.8V541.6H237V549.7H237.2V557.7H237.9V565.8H238V549.7H238.2V557.7H238.7V565.8H238.9V557.7H239.8V549.7H240.6V541.6H241V549.7H241.5V557.7H241.7V549.7H242.4V541.6H242.5V549.7H242.9V557.7H243.2V541.6H244.1V549.7H244.8V541.6H245.1V549.7H245.3V541.6H245.5V557.7H246V549.7H246.2V541.6H246.4V533.6H246.5V541.6H247.6V549.7H247.7V541.6H247.9V533.6H248.1V541.6H248.3V533.6H248.4V541.6H248.8V549.7H249V541.6H249.1V557.7H249.3V549.7H249.7V541.6H249.8V533.6H250.2V541.6H250.3V549.7H250.9V533.6H251V541.6H251.4V549.7H252.1V541.6H252.3V533.6H252.4V541.6H252.6V549.7H252.8V541.6H254.3V533.6H254.5V541.6H255.2V533.6H255.4V549.7H255.7V541.6H255.9V549.7H256.2V541.6H256.4V533.6H256.8V541.6H256.9V533.6H257.1V525.6H257.3V533.6H257.6V541.6H257.8V549.7H258V541.6H258.8V533.6H259.5V541.6H260.4V533.6H260.6V557.7H260.7V549.7H261.1V541.6H261.3V533.6H261.6V541.6H261.8V525.6H262.7V517.5H263V525.6H263.5V533.6H263.7V541.6H263.9V533.6H264.4V541.6H264.6V533.6H265.1V517.5H265.3V533.6H265.4V541.6H265.6V533.6H265.9V525.6H266.1V541.6H266.5V533.6H266.6V541.6H266.8V533.6H267V541.6H267.2V525.6H267.3V533.6H268.2V549.7H268.4V541.6H268.5V533.6H268.9V541.6H269.4V533.6H269.6V525.6H269.8V541.6H269.9V533.6H270.1V525.6H270.3V533.6H270.8V525.6H271.3V533.6H271.8V525.6H272V533.6H272.2V541.6H272.4V525.6H272.5V533.6H273.1V525.6H273.2V541.6H273.4V533.6H273.6V525.6H273.7V541.6H274.4V533.6H275.5V549.7H275.7V533.6H275.8V517.5H276V525.6H276.2V533.6H276.7V525.6H277V533.6H277.4V541.6H277.6V533.6H277.7V541.6H278.1V533.6H278.8V525.6H279.3V533.6H279.8V541.6H280V525.6H280.7V541.6H280.9V533.6H281.2V525.6H281.5V533.6H282.6V541.6H282.8V533.6H283.6V525.6H284.1V533.6H284.8V525.6H285V533.6H285.5V525.6H285.7V533.6H285.9V525.6H286.4V533.6H286.9V525.6H287.4V517.5H288V525.6H288.3V533.6H289V541.6H289.3V533.6H289.5V525.6H289.7V533.6H289.9V541.6H290.2V533.6H290.4V525.6H290.9V517.5H291.1V525.6H291.4V533.6H291.8V525.6H292.1V517.5H292.5V533.6H292.6V541.6H292.8V533.6H293.7V525.6H294.5V517.5H294.7V525.6H295.2V533.6H295.4V525.6H296.1V517.5H296.5V525.6H296.6V541.6H296.8V533.6H297.1V517.5H297.7V525.6H297.8V533.6H298.4V525.6H298.5V533.6H298.7V525.6H298.9V533.6H299.2V541.6H299.4V533.6H299.6V541.6H299.7V533.6H299.9V525.6H300.1V517.5H300.4V525.6H300.6V517.5H301.3V525.6H301.8V517.5H302.2V509.5H302.3V517.5H302.7V509.5H302.9V517.5H303V525.6H303.2V533.6H303.4V525.6H303.6V533.6H303.9V525.6H304.1V517.5H304.3V525.6H304.9V533.6H305.3V525.6H305.8V533.6H306V525.6H306.7V533.6H306.9V525.6H307V517.5H307.2V525.6H307.4V517.5H308.1V525.6H308.6V517.5H309.1V509.5H309.6V517.5H310.5V525.6H310.7V517.5H311.4V525.6H311.9V517.5H312.1V509.5H312.2V517.5H312.7V525.6H313.3V517.5H313.8V509.5H314V525.6H314.3V509.5H314.5V517.5H315.9V509.5H316.4V517.5H316.6V509.5H316.7V517.5H317.1V533.6H317.4V509.5H317.6V525.6H318.1V509.5H318.3V525.6H318.8V517.5H319V525.6H319.3V533.6H319.5V525.6H319.7V517.5H320V525.6H320.2V517.5H320.7V525.6H321.1V533.6H321.2V525.6H321.4V517.5H321.6V509.5H321.8V517.5H322.5V501.4H322.6V509.5H323V517.5H323.7V525.6H323.8V517.5H324V509.5H324.2V501.4H324.4V509.5H324.5V517.5H324.7V509.5H324.9V517.5H325.2V509.5H325.4V517.5H325.6V525.6H325.9V517.5H326.1V509.5H326.4V517.5H327.1V525.6H327.3V517.5H327.5V525.6H327.7V517.5H328V501.4H328.2V509.5H328.5V501.4H328.7V493.4H328.9V509.5H329V517.5H329.2V509.5H329.4V517.5H329.6V509.5H330.3V493.4H330.6V501.4H330.9V509.5H331.1V517.5H331.8V525.6H332.3V517.5H332.5V525.6H332.9V517.5H333V533.6H333.2V517.5H333.4V525.6H333.7V517.5H334.1V525.6H334.2V517.5H334.4V509.5H334.6V517.5H334.8V509.5H334.9V501.4H335.3V509.5H335.5V517.5H335.6V509.5H335.8V525.6H336.1V517.5H336.3V525.6H336.7V509.5H336.8V517.5H337V509.5H337.2V501.4H337.4V517.5H337.5V509.5H337.7V517.5H338.2V509.5H338.6V501.4H338.7V509.5H339.1V517.5H339.4V525.6H339.6V517.5H339.8V509.5H340.7V517.5H340.8V509.5H341V517.5H341.3V501.4H341.5V509.5H341.9V517.5H342V509.5H342.2V501.4H342.4V509.5H342.6V517.5H343.1V509.5H343.3V501.4H343.9V509.5H344.1V525.6H344.3V517.5H344.5V509.5H344.6V517.5H344.8V509.5H345V517.5H345.3V509.5H345.5V501.4H345.9V517.5H346V509.5H346.2V525.6H346.2" stroke="#1010ff" stroke-width="1.1" fill="none"/>
<path d="M146 614L148.6 611.7L151.2 609.4L153.8 607.1L156.4 604.9L159 602.8L161.6 600.6L164.2 598.5L166.8 596.4L169.4 594.4L172 592.4L174.6 590.4L177.2 588.5L179.8 586.6L182.4 584.7L185 582.9L187.6 581.1L190.2 579.3L192.8 577.5L195.4 575.8L198 574.1L200.6 572.4L203.2 570.8L205.8 569.2L208.4 567.6L211 566.1L213.6 564.5L216.2 563L218.8 561.5L221.4 560.1L224 558.6L226.6 557.2L229.2 555.8L231.8 554.5L234.4 553.1L237 551.8L239.6 550.5L242.2 549.2L244.8 548L247.4 546.8L250 545.5L252.6 544.3L255.2 543.2L257.8 542L260.4 540.9L263 539.8L265.6 538.7L268.2 537.6L270.8 536.5L273.4 535.5L276 534.4L278.6 533.4L281.2 532.4L283.8 531.5L286.4 530.5L289 529.6L291.6 528.6L294.2 527.7L296.8 526.8L299.4 525.9L302 525.1L304.6 524.2L307.2 523.4L309.8 522.5L312.4 521.7L315 520.9L317.6 520.1L320.2 519.4L322.8 518.6L325.4 517.9L328 517.1L330.6 516.4L333.2 515.7L335.8 515L338.4 514.3L341 513.6L343.6 512.9L346.2 512.3" stroke="#e33" stroke-width="1.5" fill="none"/>
</g>
<path d="M138.2 614.2L138.2 611.2M138.2 485.6L138.2 488.6M151.2 614.2L151.2 612.2M151.2 485.6L151.2 487.6M164.2 614.2L164.2 611.2M164.2 485.6L164.2 488.6M177.2 614.2L177.2 612.2M177.2 485.6L177.2 487.6M190.2 614.2L190.2 611.2M190.2 485.6L190.2 488.6M203.2 614.2L203.2 612.2M203.2 485.6L203.2 487.6M216.2 614.2L216.2 611.2M216.2 485.6L216.2 488.6M229.2 614.2L229.2 612.2M229.2 485.6L229.2 487.6M242.2 614.2L242.2 611.2M242.2 485.6L242.2 488.6M255.2 614.2L255.2 612.2M255.2 485.6L255.2 487.6M268.2 614.2L268.2 611.2M268.2 485.6L268.2 488.6M281.2 614.2L281.2 612.2M281.2 485.6L281.2 487.6M294.2 614.2L294.2 611.2M294.2 485.6L294.2 488.6M307.2 614.2L307.2 612.2M307.2 485.6L307.2 487.6M320.2 614.2L320.2 611.2M320.2 485.6L320.2 488.6M333.2 614.2L333.2 612.2M333.2 485.6L333.2 487.6M346.2 614.2L346.2 611.2M346.2 485.6L346.2 488.6M138.2 614L141.2 614M346.6 614L343.6 614M138.2 593.9L140.2 593.9M346.6 593.9L344.6 593.9M138.2 573.8L141.2 573.8M346.6 573.8L343.6 573.8M138.2 553.7L140.2 553.7M346.6 553.7L344.6 553.7M138.2 533.6L141.2 533.6M346.6 533.6L343.6 533.6M138.2 513.5L140.2 513.5M346.6 513.5L344.6 513.5M138.2 493.4L141.2 493.4M346.6 493.4L343.6 493.4" stroke="#777" stroke-width="1" fill="none"/>
<rect x="138.2" y="485.6" width="208.4" height="128.6" stroke="#888" stroke-width="1" fill="none" />
<text x="135.5" y="619.5" font-size="15.3" text-anchor="end" textLength="21.9" lengthAdjust="spacingAndGlyphs" fill="#222" >0,0</text>
<text x="135.5" y="579.3" font-size="15.3" text-anchor="end" textLength="21.9" lengthAdjust="spacingAndGlyphs" fill="#222" >0,5</text>
<text x="135.5" y="539.1" font-size="15.3" text-anchor="end" textLength="21.9" lengthAdjust="spacingAndGlyphs" fill="#222" >1,0</text>
<text x="135.5" y="498.9" font-size="15.3" text-anchor="end" textLength="21.9" lengthAdjust="spacingAndGlyphs" fill="#222" >1,5</text>
<text x="138.2" y="631.3" font-size="16" text-anchor="middle" fill="#111" >0</text>
<text x="164.2" y="631.3" font-size="16" text-anchor="middle" fill="#111" >1</text>
<text x="190.2" y="631.3" font-size="16" text-anchor="middle" fill="#111" >2</text>
<text x="216.2" y="631.3" font-size="16" text-anchor="middle" fill="#111" >3</text>
<text x="242.2" y="631.3" font-size="16" text-anchor="middle" fill="#111" >4</text>
<text x="268.2" y="631.3" font-size="16" text-anchor="middle" fill="#111" >5</text>
<text x="294.2" y="631.3" font-size="16" text-anchor="middle" fill="#111" >6</text>
<text x="320.2" y="631.3" font-size="16" text-anchor="middle" fill="#111" >7</text>
<text x="346.2" y="631.3" font-size="16" text-anchor="middle" fill="#111" >8</text>
<text x="208.9" y="644.7" font-size="16" textLength="45.3" lengthAdjust="spacingAndGlyphs" fill="#111" >t (min)</text>
<text x="0" y="0" transform="translate(102.4,541.7) rotate(-90)" font-size="17" text-anchor="middle" textLength="84.6" lengthAdjust="spacingAndGlyphs" fill="#111" >ΔT/Δt (°C)</text>
<rect x="201.2" y="585.3" width="143.7" height="26.2" stroke="#999" stroke-width="1" fill="#fff" />
<text x="209.5" y="604.8" font-size="15.5" textLength="127" lengthAdjust="spacingAndGlyphs" fill="#111" >ΔT/Δt = 0,005 C/s</text>
<path d="M97 1008.5H121.3M261.4 1008.5H297.4M350.4 1008.5H386.3M439.8 1008.5H474.8M526 1008.5H561M615 1008.5H650M97 1066.3H112.5M164.2 1066.3H199.2M252.7 1066.3H287.7M339 1066.3H374M428 1066.3H463M516.4 1066.3H551.4M602.7 1066.3H637.7M97 1124.1H140.1M190.5 1124.1H225.5M281.2 1124.1H315.3M368.8 1124.1H403.4M455 1124.1H490M543.6 1124.1H578.6M632.5 1124.1H667.5M97 1181.9H106M158.5 1181.9H193.6M246.1 1181.9H281.2M335.9 1181.9H371M420.9 1181.9H457.3M511.1 1181.9H546.2M597.4 1181.9H632.5M97 1239.7H134.4M187.9 1239.7H222.9M274.6 1239.7H309.6M362.2 1239.7H398.1M449.8 1239.7H485M540 1239.7H575M627.2 1239.7H662.3M97 1297.5H122.2M176 1297.5H211M261.4 1297.5H296.5M350 1297.5H385M439.8 1297.5H475M525.2 1297.5H560.2M613.6 1297.5H648.7M97 1355.3H116.2M170.8 1355.3H204.5M259.1 1355.3H294M346 1355.3H381M433.2 1355.3H468.2M518.6 1355.3H555.8M607 1355.3H643.7" stroke="#222" stroke-width="1.4" stroke-dasharray="1.4 1.6" fill="none"/>
<path d="M97.2 1355.3L104.2 1355.3M681.9 1355.3L674.9 1355.3M97.2 1340.8L100.7 1340.8M681.9 1340.8L678.4 1340.8M97.2 1326.4L100.7 1326.4M681.9 1326.4L678.4 1326.4M97.2 1312L100.7 1312M681.9 1312L678.4 1312M97.2 1297.5L104.2 1297.5M681.9 1297.5L674.9 1297.5M97.2 1283L100.7 1283M681.9 1283L678.4 1283M97.2 1268.6L100.7 1268.6M681.9 1268.6L678.4 1268.6M97.2 1254.1L100.7 1254.1M681.9 1254.1L678.4 1254.1M97.2 1239.7L104.2 1239.7M681.9 1239.7L674.9 1239.7M97.2 1225.2L100.7 1225.2M681.9 1225.2L678.4 1225.2M97.2 1210.8L100.7 1210.8M681.9 1210.8L678.4 1210.8M97.2 1196.3L100.7 1196.3M681.9 1196.3L678.4 1196.3M97.2 1181.9L104.2 1181.9M681.9 1181.9L674.9 1181.9M97.2 1167.5L100.7 1167.5M681.9 1167.5L678.4 1167.5M97.2 1153L100.7 1153M681.9 1153L678.4 1153M97.2 1138.5L100.7 1138.5M681.9 1138.5L678.4 1138.5M97.2 1124.1L104.2 1124.1M681.9 1124.1L674.9 1124.1M97.2 1109.7L100.7 1109.7M681.9 1109.7L678.4 1109.7M97.2 1095.2L100.7 1095.2M681.9 1095.2L678.4 1095.2M97.2 1080.8L100.7 1080.8M681.9 1080.8L678.4 1080.8M97.2 1066.3L104.2 1066.3M681.9 1066.3L674.9 1066.3M97.2 1051.8L100.7 1051.8M681.9 1051.8L678.4 1051.8M97.2 1037.4L100.7 1037.4M681.9 1037.4L678.4 1037.4M97.2 1023L100.7 1023M681.9 1023L678.4 1023M97.2 1008.5L104.2 1008.5M681.9 1008.5L674.9 1008.5M97.2 994L100.7 994M681.9 994L678.4 994M97.2 979.6L100.7 979.6M681.9 979.6L678.4 979.6M97.2 1362.8L97.2 1356.8M97.2 978.2L97.2 984.2M139.3 1362.8L139.3 1359.3M139.3 978.2L139.3 981.7M181.4 1362.8L181.4 1356.8M181.4 978.2L181.4 984.2M223.5 1362.8L223.5 1359.3M223.5 978.2L223.5 981.7M265.6 1362.8L265.6 1356.8M265.6 978.2L265.6 984.2M307.7 1362.8L307.7 1359.3M307.7 978.2L307.7 981.7M349.8 1362.8L349.8 1356.8M349.8 978.2L349.8 984.2M391.9 1362.8L391.9 1359.3M391.9 978.2L391.9 981.7M434 1362.8L434 1356.8M434 978.2L434 984.2M476.1 1362.8L476.1 1359.3M476.1 978.2L476.1 981.7M518.2 1362.8L518.2 1356.8M518.2 978.2L518.2 984.2M589 1362.8L589 1356.8M589 978.2L589 984.2M607.7 1362.8L607.7 1359.3M607.7 978.2L607.7 981.7M626.4 1362.8L626.4 1356.8M626.4 978.2L626.4 984.2M645.1 1362.8L645.1 1359.3M645.1 978.2L645.1 981.7M663.8 1362.8L663.8 1356.8M663.8 978.2L663.8 984.2" stroke="#000" stroke-width="1.6" fill="none"/>
<path d="M97.2 978.2H560.4M571.8 978.2H681.9V1362.8H571.8M560.4 1362.8H97.2Z" stroke="#000" stroke-width="1.8" fill="none"/>
<path d="M97.2 978.2V1362.8" stroke="#000" stroke-width="1.8"/>
<path d="M554.7 985.9L564.8 973.1M564 985.9L573.9 973.1M554.8 1370.2L566.5 1357.5M565 1370.2L576 1357.5" stroke="#000" stroke-width="1.4"/>
<text x="88.5" y="1361.3" font-size="17" text-anchor="end" textLength="9" lengthAdjust="spacing" fill="#222" >0</text>
<text x="88.5" y="1303.5" font-size="17" text-anchor="end" textLength="33.5" lengthAdjust="spacing" fill="#222" >100</text>
<text x="88.5" y="1245.7" font-size="17" text-anchor="end" textLength="33.5" lengthAdjust="spacing" fill="#222" >200</text>
<text x="88.5" y="1187.9" font-size="17" text-anchor="end" textLength="33.5" lengthAdjust="spacing" fill="#222" >300</text>
<text x="88.5" y="1130.1" font-size="17" text-anchor="end" textLength="33.5" lengthAdjust="spacing" fill="#222" >400</text>
<text x="88.5" y="1072.3" font-size="17" text-anchor="end" textLength="33.5" lengthAdjust="spacing" fill="#222" >500</text>
<text x="88.5" y="1014.5" font-size="17" text-anchor="end" textLength="33.5" lengthAdjust="spacing" fill="#222" >600</text>
<text x="97.2" y="1386.2" font-size="17.9" text-anchor="middle" textLength="26.7" lengthAdjust="spacing" fill="#222" >0,0</text>
<text x="181.4" y="1386.2" font-size="17.9" text-anchor="middle" textLength="26.7" lengthAdjust="spacing" fill="#222" >0,2</text>
<text x="265.6" y="1386.2" font-size="17.9" text-anchor="middle" textLength="26.7" lengthAdjust="spacing" fill="#222" >0,4</text>
<text x="349.8" y="1386.2" font-size="17.9" text-anchor="middle" textLength="26.7" lengthAdjust="spacing" fill="#222" >0,6</text>
<text x="434" y="1386.2" font-size="17.9" text-anchor="middle" textLength="26.7" lengthAdjust="spacing" fill="#222" >0,8</text>
<text x="518.2" y="1386.2" font-size="17.9" text-anchor="middle" textLength="26.7" lengthAdjust="spacing" fill="#222" >1,0</text>
<text x="587.3" y="1385.5" font-size="17" text-anchor="middle" textLength="20.2" lengthAdjust="spacing" fill="#222" >48</text>
<text x="624.7" y="1385.5" font-size="17" text-anchor="middle" textLength="20.2" lengthAdjust="spacing" fill="#222" >50</text>
<text x="662.1" y="1385.5" font-size="17" text-anchor="middle" textLength="20.2" lengthAdjust="spacing" fill="#222" >52</text>
<text x="604.5" y="1046.8" font-size="40" fill="#111" >c)</text>
<text transform="translate(31.6,1172.5) rotate(-90)" x="0" y="0" font-size="27.5" text-anchor="middle" fill="#111">SPA (W/g Co<tspan font-size="18" dy="7">x</tspan><tspan dy="-7">Fe</tspan><tspan font-size="18" dy="7">3-x</tspan><tspan dy="-7">O</tspan><tspan font-size="18" dy="7">4</tspan><tspan dy="-7">)</tspan></text>
<text x="294.5" y="1418.1" font-size="27" textLength="172.5" lengthAdjust="spacingAndGlyphs" fill="#111" >η (kg/ms)x 10</text>
<text x="468.5" y="1405" font-size="16" textLength="13.8" lengthAdjust="spacingAndGlyphs" fill="#111" >-3</text>
<path d="M221.3 1023.2L345.2 1210.2L454.2 1259.8L471.7 1285.2L509.8 1341.2L625.9 1355.3" stroke="#1a1aff" stroke-width="1.7" stroke-dasharray="2.5 5.5" fill="none"/>
<rect x="128.4" y="996.4" width="82.2" height="25.4" stroke="#000" stroke-width="1.8" fill="#fff" />
<text x="134.9" y="1013.9" font-size="17.5" textLength="67.4" lengthAdjust="spacingAndGlyphs" fill="#111" >Hexane</text>
<rect x="239.9" y="1196.9" width="88.1" height="29" stroke="#000" stroke-width="1.8" fill="#fff" />
<text x="246.9" y="1216.7" font-size="18" textLength="71.2" lengthAdjust="spacingAndGlyphs" fill="#111" >Toluene</text>
<rect x="468.2" y="1239.2" width="116.1" height="25" stroke="#000" stroke-width="1.8" fill="#fff" />
<text x="475.7" y="1257.6" font-size="17.5" textLength="99.8" lengthAdjust="spacingAndGlyphs" fill="#111" >Chloroform</text>
<rect x="484.9" y="1271.6" width="64.4" height="25.4" stroke="#000" stroke-width="1.8" fill="#fff" />
<text x="491" y="1289.1" font-size="17.5" textLength="52.6" lengthAdjust="spacingAndGlyphs" fill="#111" >Water</text>
<rect x="421.4" y="1325" width="73.1" height="25" stroke="#000" stroke-width="1.8" fill="#fff" />
<text x="427.5" y="1343.9" font-size="17.5" textLength="61.3" lengthAdjust="spacingAndGlyphs" fill="#111" >DMEM</text>
<rect x="611.9" y="1317.2" width="52.1" height="24" stroke="#000" stroke-width="1.8" fill="#fff" />
<text x="615" y="1336" font-size="17.5" textLength="45" lengthAdjust="spacingAndGlyphs" fill="#111" >Cells</text>
<defs><radialGradient id="ball" cx="0.38" cy="0.4" r="0.62"><stop offset="0" stop-color="#c8c8ff"/><stop offset="0.25" stop-color="#3a3aff"/><stop offset="0.7" stop-color="#0000ee"/><stop offset="1" stop-color="#000060"/></radialGradient></defs>
<circle cx="221.3" cy="1023.2" r="7" fill="#0a0af5"/>
<path d="M215.8 1023.7H226.8M221.3 1018.7V1028.2" stroke="#000030" stroke-width="1.4"/>
<path d="M216.8 1019A7 7 0 0 1 225.8 1019M216.8 1028.4A7 7 0 0 0 225.8 1028.4" stroke="#000040" stroke-width="1.2" fill="none"/>
<ellipse cx="219.3" cy="1021.2" rx="2.2" ry="1.4" fill="#9a9aff"/>
<circle cx="345.2" cy="1210.2" r="7" fill="#0a0af5"/>
<path d="M339.7 1210.7H350.7M345.2 1205.7V1215.2" stroke="#000030" stroke-width="1.4"/>
<path d="M340.7 1206A7 7 0 0 1 349.7 1206M340.7 1215.4A7 7 0 0 0 349.7 1215.4" stroke="#000040" stroke-width="1.2" fill="none"/>
<ellipse cx="343.2" cy="1208.2" rx="2.2" ry="1.4" fill="#9a9aff"/>
<circle cx="454.2" cy="1259.8" r="7" fill="#0a0af5"/>
<path d="M448.7 1260.3H459.7M454.2 1255.3V1264.8" stroke="#000030" stroke-width="1.4"/>
<path d="M449.7 1255.6A7 7 0 0 1 458.7 1255.6M449.7 1265A7 7 0 0 0 458.7 1265" stroke="#000040" stroke-width="1.2" fill="none"/>
<ellipse cx="452.2" cy="1257.8" rx="2.2" ry="1.4" fill="#9a9aff"/>
<circle cx="471.7" cy="1285.2" r="7" fill="#0a0af5"/>
<path d="M466.2 1285.7H477.2M471.7 1280.7V1290.2" stroke="#000030" stroke-width="1.4"/>
<path d="M467.2 1281A7 7 0 0 1 476.2 1281M467.2 1290.4A7 7 0 0 0 476.2 1290.4" stroke="#000040" stroke-width="1.2" fill="none"/>
<ellipse cx="469.7" cy="1283.2" rx="2.2" ry="1.4" fill="#9a9aff"/>
<circle cx="509.8" cy="1341.2" r="7" fill="#0a0af5"/>
<path d="M504.3 1341.7H515.3M509.8 1336.7V1346.2" stroke="#000030" stroke-width="1.4"/>
<path d="M505.3 1337A7 7 0 0 1 514.3 1337M505.3 1346.4A7 7 0 0 0 514.3 1346.4" stroke="#000040" stroke-width="1.2" fill="none"/>
<ellipse cx="507.8" cy="1339.2" rx="2.2" ry="1.4" fill="#9a9aff"/>
<circle cx="625.9" cy="1355.3" r="7" fill="#0a0af5"/>
<path d="M620.4 1355.8H631.4M625.9 1350.8V1360.3" stroke="#000030" stroke-width="1.4"/>
<path d="M621.4 1351.1A7 7 0 0 1 630.4 1351.1M621.4 1360.5A7 7 0 0 0 630.4 1360.5" stroke="#000040" stroke-width="1.2" fill="none"/>
<ellipse cx="623.9" cy="1353.3" rx="2.2" ry="1.4" fill="#9a9aff"/>
</svg></body></html>
